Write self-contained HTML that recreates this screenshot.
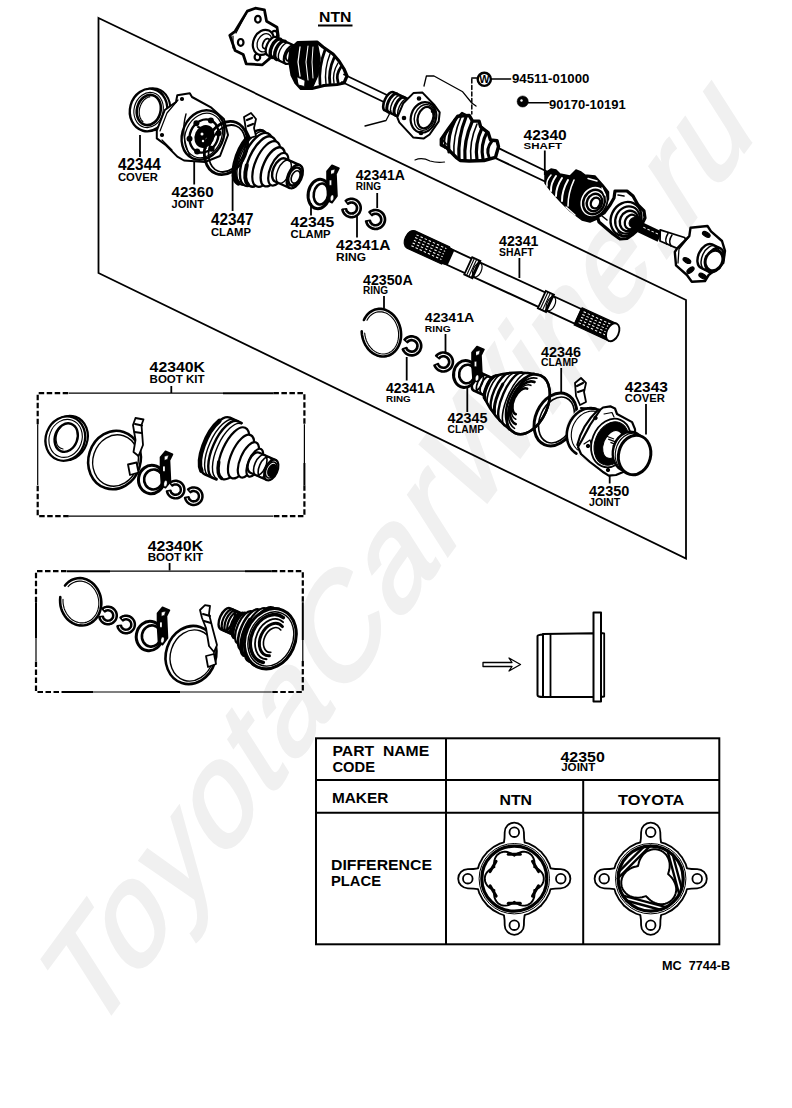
<!DOCTYPE html>
<html><head><meta charset="utf-8"><style>
html,body{margin:0;padding:0;background:#fff;}
svg{display:block;}
text{font-family:"Liberation Sans",sans-serif;font-weight:bold;fill:#000;}
.pn text{font-weight:bold;}
text.wm{fill:#f0f0f0;stroke:#f0f0f0;stroke-width:2.5;font-weight:normal;}
.ld{stroke:#000;stroke-width:1.8;}
.fr{fill:none;stroke:#000;stroke-width:1.8;}
.dash{fill:none;stroke:#000;stroke-width:2.2;stroke-dasharray:5.5 2.5;}
.tb rect,.tb line{fill:none;stroke:#000;stroke-width:2;}
.k{fill:none;stroke:#000;stroke-width:1.6;stroke-linejoin:round;stroke-linecap:round;}
.kf{fill:#fff;stroke:#000;stroke-width:1.6;stroke-linejoin:round;}
.kb{fill:#000;stroke:none;}
</style></head><body>
<svg width="792" height="1108" viewBox="0 0 792 1108">
<text class="wm" x="0" y="0" font-size="108" letter-spacing="3" transform="translate(91,1041) scale(1,1.46) rotate(-43)">ToyotaCarWine.ru</text>
<path d="M247.3,11.1 L255.3,8.2 L264.4,9.8 L266.6,21.2 L277.0,27.3 L278.3,36.3 L273.5,40.0 L269.5,58.6 L262.4,64.8 L246.2,63.8 L243.2,54.5 L235.1,50.5 L229.8,35.3 L235.1,31.3 Z" fill="#fff" stroke="#000" stroke-width="2.8" stroke-linejoin="round" stroke-linecap="round" />
<path d="M246,14 L236,33 M233,36 L233,48" fill="none" stroke="#000" stroke-width="1.2" stroke-linejoin="round" stroke-linecap="round" />
<ellipse cx="257.9" cy="19.2" rx="2.8" ry="3.4" transform="rotate(0 257.9 19.2)" fill="none" stroke="#000" stroke-width="2.2" />
<ellipse cx="240.7" cy="42.4" rx="2.8" ry="3.4" transform="rotate(0 240.7 42.4)" fill="none" stroke="#000" stroke-width="2.2" />
<ellipse cx="257.4" cy="57.0" rx="2.8" ry="3.4" transform="rotate(0 257.4 57.0)" fill="none" stroke="#000" stroke-width="2.2" />
<ellipse cx="274.5" cy="34.3" rx="2.8" ry="3.4" transform="rotate(0 274.5 34.3)" fill="none" stroke="#000" stroke-width="2.2" />
<ellipse cx="263.4" cy="42.4" rx="10.0" ry="13.0" transform="rotate(25 263.4 42.4)" fill="#fff" stroke="#000" stroke-width="2.2" />
<ellipse cx="264.5" cy="42.8" rx="7.0" ry="9.5" transform="rotate(25 264.5 42.8)" fill="none" stroke="#000" stroke-width="1.3" />
<g transform="translate(266.0,43.5) rotate(25)">
<path d="M7.0,-5.2 L0.0,-5.2 A2.9,5.2 0 0 0 0.0,5.2 L7.0,5.2" fill="#fff" stroke="#000" stroke-width="1.8" stroke-linejoin="round" stroke-linecap="round" />
<ellipse cx="7.0" cy="0" rx="2.9" ry="5.2" fill="#fff" stroke="#000" stroke-width="1.8"/>
</g>
<g transform="translate(280.0,50.0) rotate(25)">
<path d="M11.0,-10.0 L-9.0,-10.0 A5.0,10.0 0 0 0 -9.0,10.0 L11.0,10.0" fill="#fff" stroke="#000" stroke-width="2.2" stroke-linejoin="round" stroke-linecap="round" />
<ellipse cx="11.0" cy="0" rx="5.0" ry="10.0" fill="#fff" stroke="#000" stroke-width="2.2"/>
<path d="M-4.0,10.0 A5.0,10.0 0 0 1 -4.0,-10.0" fill="none" stroke="#000" stroke-width="3.4" stroke-linejoin="round" stroke-linecap="round" />
<path d="M1.0,10.0 A5.0,10.0 0 0 1 1.0,-10.0" fill="none" stroke="#000" stroke-width="3.4" stroke-linejoin="round" stroke-linecap="round" />
<path d="M5.0,10.0 A5.0,10.0 0 0 1 5.0,-10.0" fill="none" stroke="#000" stroke-width="1.4" stroke-linejoin="round" stroke-linecap="round" />
<ellipse cx="11.0" cy="0.0" rx="3.6" ry="6.5" fill="#fff" stroke="#000" stroke-width="2.0"/>
</g>
<path d="M291.0,49.0 L298.0,42.5 L317.0,42.0 L323.0,47.0 L333.0,54.0 L339.0,61.0 L344.0,69.0 L347.0,76.0 L344.0,83.0 L337.0,84.5 L324.0,85.5 L312.0,88.5 L301.0,88.5 L296.0,83.0 L292.0,75.0 L289.5,60.0 Z" fill="#fff" stroke="#000" stroke-width="3.2" stroke-linejoin="round" stroke-linecap="round" />
<path d="M291.0,49.0 L298.0,42.5 L317.0,42.0 L320.0,58.0 L318.0,75.0 L312.0,88.5 L301.0,88.5 L296.0,83.0 L292.0,75.0 L289.5,60.0 Z" fill="#000" stroke="#000" stroke-width="1.5" stroke-linejoin="round" stroke-linecap="round" />
<path d="M300,47 L298,62 L300,76" fill="none" stroke="#fff" stroke-width="1.3" stroke-linejoin="round" stroke-linecap="round" />
<path d="M308,46 L306,62 L308,80" fill="none" stroke="#fff" stroke-width="1.1" stroke-linejoin="round" stroke-linecap="round" />
<path d="M313,47 L312,62 L313,78" fill="none" stroke="#fff" stroke-width="1.0" stroke-linejoin="round" stroke-linecap="round" />
<path d="M325,50 Q318.5,67.0 320,84" fill="none" stroke="#000" stroke-width="2.8" stroke-linejoin="round" stroke-linecap="round" />
<path d="M330,54 Q324.0,69.0 326,84" fill="none" stroke="#000" stroke-width="1.4" stroke-linejoin="round" stroke-linecap="round" />
<path d="M334,58 Q328.0,71.0 330,84" fill="none" stroke="#000" stroke-width="2.8" stroke-linejoin="round" stroke-linecap="round" />
<path d="M338,63 Q332.0,73.0 334,83" fill="none" stroke="#000" stroke-width="1.4" stroke-linejoin="round" stroke-linecap="round" />
<path d="M341,67 Q335.5,74.5 338,82" fill="none" stroke="#000" stroke-width="2.8" stroke-linejoin="round" stroke-linecap="round" />
<path d="M297,77 L305,80.5 L304.5,86.5 L298.5,85 Z" fill="#fff" stroke="#000" stroke-width="0.8" stroke-linejoin="round" stroke-linecap="round" />
<line x1="344.0" y1="74.5" x2="389.0" y2="96.0" stroke="#000" stroke-width="1.8" stroke-linecap="round" />
<line x1="342.0" y1="82.0" x2="387.0" y2="103.5" stroke="#000" stroke-width="1.8" stroke-linecap="round" />
<g transform="translate(399.0,106.0) rotate(25)">
<path d="M12.0,-10.0 L-11.0,-10.0 A4.5,10.0 0 0 0 -11.0,10.0 L12.0,10.0" fill="#fff" stroke="#000" stroke-width="2.6" stroke-linejoin="round" stroke-linecap="round" />
<ellipse cx="12.0" cy="0" rx="4.5" ry="10.0" fill="#fff" stroke="#000" stroke-width="2.6"/>
<path d="M-7.0,10.0 A4.5,10.0 0 0 1 -7.0,-10.0" fill="none" stroke="#000" stroke-width="3.0" stroke-linejoin="round" stroke-linecap="round" />
<path d="M-3.0,10.0 A4.5,10.0 0 0 1 -3.0,-10.0" fill="none" stroke="#000" stroke-width="1.4" stroke-linejoin="round" stroke-linecap="round" />
<path d="M1.0,10.0 A4.5,10.0 0 0 1 1.0,-10.0" fill="none" stroke="#000" stroke-width="3.0" stroke-linejoin="round" stroke-linecap="round" />
<path d="M5.0,10.0 A4.5,10.0 0 0 1 5.0,-10.0" fill="none" stroke="#000" stroke-width="1.4" stroke-linejoin="round" stroke-linecap="round" />
<path d="M9.0,10.0 A4.5,10.0 0 0 1 9.0,-10.0" fill="none" stroke="#000" stroke-width="3.0" stroke-linejoin="round" stroke-linecap="round" />
</g>
<path d="M413.4,93.1 L422.5,92.6 L434.6,105.3 L439.7,112.3 L438.7,121.4 L429.6,134.5 L423.5,138.6 L413.4,137.6 L399.3,122.4 L397.3,117.4 L403.3,103.2 Z" fill="#fff" stroke="#000" stroke-width="2.0" stroke-linejoin="round" stroke-linecap="round" />
<ellipse cx="423.5" cy="117.4" rx="12.5" ry="15.5" transform="rotate(18 423.5 117.4)" fill="#fff" stroke="#000" stroke-width="2.2" />
<ellipse cx="424.5" cy="117.4" rx="10.0" ry="13.2" transform="rotate(18 424.5 117.4)" fill="none" stroke="#000" stroke-width="1.4" />
<ellipse cx="425.5" cy="117.6" rx="7.6" ry="11.0" transform="rotate(18 425.5 117.6)" fill="#fff" stroke="#000" stroke-width="2.2" />
<ellipse cx="419.0" cy="98.5" rx="1.6" ry="1.6" transform="rotate(0 419.0 98.5)" fill="#000" stroke="#000" stroke-width="1.4" />
<ellipse cx="433.0" cy="111.0" rx="1.6" ry="1.6" transform="rotate(0 433.0 111.0)" fill="#000" stroke="#000" stroke-width="1.4" />
<ellipse cx="404.0" cy="118.0" rx="1.6" ry="1.6" transform="rotate(0 404.0 118.0)" fill="#000" stroke="#000" stroke-width="1.4" />
<ellipse cx="421.0" cy="133.0" rx="1.6" ry="1.6" transform="rotate(0 421.0 133.0)" fill="#000" stroke="#000" stroke-width="1.4" />
<path d="M365,126 L386,120.5 L391,111" fill="none" stroke="#000" stroke-width="1.3" stroke-linejoin="round" stroke-linecap="round" />
<path d="M424,86 L426.4,76 L434,76 L462.7,91.8 L471.8,103 L476,106" fill="none" stroke="#000" stroke-width="1.3" stroke-linejoin="round" stroke-linecap="round" />
<path d="M415,160 Q422,157 430,161 Q437,163 444.5,162" fill="none" stroke="#000" stroke-width="1.2" stroke-linejoin="round" stroke-linecap="round" />
<path d="M471.8,79 L471.8,114" fill="none" stroke="#000" stroke-width="1.5" stroke-linejoin="round" stroke-linecap="round" stroke-dasharray="4 2.5"/>
<line x1="471.8" y1="78.0" x2="477.5" y2="78.0" stroke="#000" stroke-width="1.5" stroke-linecap="round" />
<ellipse cx="484.3" cy="79.3" rx="6.6" ry="6.6" transform="rotate(0 484.3 79.3)" fill="#fff" stroke="#000" stroke-width="2.4" />
<text x="479.2" y="83.4" font-size="10" textLength="10.2" lengthAdjust="spacingAndGlyphs" style="font-weight:bold">W</text>
<line x1="491.0" y1="79.0" x2="510.6" y2="79.0" stroke="#000" stroke-width="1.5" stroke-linecap="round" />
<ellipse cx="522.7" cy="101.5" rx="5.6" ry="5.6" transform="rotate(0 522.7 101.5)" fill="#000" stroke="#000" stroke-width="0.5" />
<ellipse cx="521.5" cy="100.5" rx="1.2" ry="1.2" transform="rotate(0 521.5 100.5)" fill="#fff" stroke="#000" stroke-width="0" />
<line x1="528.0" y1="102.8" x2="548.5" y2="102.8" stroke="#000" stroke-width="1.4" stroke-linecap="round" />
<path d="M441.3,139.2 L448.7,128.5 L457.7,116.2 L469.2,115.4 L472.5,121.1 L479.0,121.1 L480.7,126.9 L488.1,132.6 L490.5,140.0 L497.1,140.8 L498.5,146.6 L495.5,157.3 L484.0,160.5 L469.2,161.0 L460.2,160.5 L456.1,157.3 L446.2,147.4 L441.3,145.0 Z" fill="#fff" stroke="#000" stroke-width="3.4" stroke-linejoin="round" stroke-linecap="round" />
<path d="M450,126 Q442.5,137.0 445,148" fill="none" stroke="#000" stroke-width="1.6" stroke-linejoin="round" stroke-linecap="round" />
<path d="M455,120 Q447.0,136.0 449,152" fill="none" stroke="#000" stroke-width="3.2" stroke-linejoin="round" stroke-linecap="round" />
<path d="M461,117 Q452.5,136.5 454,156" fill="none" stroke="#000" stroke-width="1.6" stroke-linejoin="round" stroke-linecap="round" />
<path d="M466,117 Q457.5,138.0 459,159" fill="none" stroke="#000" stroke-width="3.2" stroke-linejoin="round" stroke-linecap="round" />
<path d="M472,122 Q463.5,141.0 465,160" fill="none" stroke="#000" stroke-width="3.2" stroke-linejoin="round" stroke-linecap="round" />
<path d="M477,124 Q469.0,142.0 471,160" fill="none" stroke="#000" stroke-width="1.6" stroke-linejoin="round" stroke-linecap="round" />
<path d="M482,128 Q474.5,144.0 477,160" fill="none" stroke="#000" stroke-width="3.2" stroke-linejoin="round" stroke-linecap="round" />
<path d="M487,132 Q480.0,145.5 483,159" fill="none" stroke="#000" stroke-width="3.2" stroke-linejoin="round" stroke-linecap="round" />
<path d="M492,141 Q485.5,149.0 489,157" fill="none" stroke="#000" stroke-width="3.0" stroke-linejoin="round" stroke-linecap="round" />
<path d="M443,140 L446,144" fill="none" stroke="#000" stroke-width="2" stroke-linejoin="round" stroke-linecap="round" />
<path d="M458,117 L462,113 L468,116" fill="none" stroke="#000" stroke-width="2.4" stroke-linejoin="round" stroke-linecap="round" />
<line x1="498.6" y1="148.2" x2="548.0" y2="172.0" stroke="#000" stroke-width="1.9" stroke-linecap="round" />
<line x1="494.0" y1="157.3" x2="545.0" y2="181.5" stroke="#000" stroke-width="1.9" stroke-linecap="round" />
<path d="M545.0,173.0 L551.0,169.0 L556.0,170.0 L560.0,174.0 L570.0,176.0 L576.0,170.0 L581.0,172.0 L585.0,175.0 L595.0,176.0 L603.0,185.0 L608.5,192.0 L608.5,199.0 L603.0,210.0 L597.0,219.0 L590.0,222.0 L582.0,220.0 L570.0,211.0 L560.0,201.0 L551.0,191.0 L545.0,183.0 Z" fill="#000" stroke="#000" stroke-width="1.5" stroke-linejoin="round" stroke-linecap="round" />
<path d="M551,175 Q546.0,180.5 547,186" fill="none" stroke="#fff" stroke-width="1.6" stroke-linejoin="round" stroke-linecap="round" />
<path d="M556,176 Q550.5,183.5 551,191" fill="none" stroke="#fff" stroke-width="2.0" stroke-linejoin="round" stroke-linecap="round" />
<path d="M562,178 Q556.0,187.0 556,196" fill="none" stroke="#fff" stroke-width="2.0" stroke-linejoin="round" stroke-linecap="round" />
<path d="M568,180 Q562.0,190.5 562,201" fill="none" stroke="#fff" stroke-width="2.0" stroke-linejoin="round" stroke-linecap="round" />
<path d="M574,180 Q568.0,193.0 568,206" fill="none" stroke="#fff" stroke-width="1.6" stroke-linejoin="round" stroke-linecap="round" />
<ellipse cx="593.5" cy="201.5" rx="13.5" ry="16.0" transform="rotate(25 593.5 201.5)" fill="#fff" stroke="#000" stroke-width="1.8" />
<ellipse cx="594.0" cy="202.0" rx="10.5" ry="12.5" transform="rotate(25 594.0 202.0)" fill="none" stroke="#000" stroke-width="2.4" />
<ellipse cx="594.5" cy="202.5" rx="7.5" ry="9.0" transform="rotate(25 594.5 202.5)" fill="none" stroke="#000" stroke-width="2.4" />
<ellipse cx="595.5" cy="203.0" rx="4.5" ry="5.5" transform="rotate(25 595.5 203.0)" fill="#fff" stroke="#000" stroke-width="2.4" />
<path d="M588,178.5 L597,181 M602,188 L605,195" fill="none" stroke="#fff" stroke-width="1.4" stroke-linejoin="round" stroke-linecap="round" />
<path d="M566,207 L575,215" fill="none" stroke="#fff" stroke-width="1.4" stroke-linejoin="round" stroke-linecap="round" />
<path d="M615.0,191.0 L627.0,191.0 L633.0,196.0 L638.0,205.0 L644.0,211.0 L645.0,218.0 L640.0,228.0 L632.0,235.0 L627.0,238.5 L620.0,239.0 L613.0,234.0 L606.0,228.0 L599.0,222.0 L597.5,217.0 L604.0,213.0 L610.0,205.0 L614.0,198.0 Z" fill="#fff" stroke="#000" stroke-width="3.2" stroke-linejoin="round" stroke-linecap="round" />
<ellipse cx="626.0" cy="219.0" rx="15.0" ry="17.5" transform="rotate(25 626.0 219.0)" fill="#fff" stroke="#000" stroke-width="2.4" />
<ellipse cx="627.5" cy="220.0" rx="12.0" ry="14.0" transform="rotate(25 627.5 220.0)" fill="none" stroke="#000" stroke-width="2.2" />
<ellipse cx="629.0" cy="221.0" rx="9.0" ry="10.5" transform="rotate(25 629.0 221.0)" fill="none" stroke="#000" stroke-width="2.4" />
<ellipse cx="631.0" cy="222.0" rx="6.0" ry="7.5" transform="rotate(25 631.0 222.0)" fill="none" stroke="#000" stroke-width="2.2" />
<ellipse cx="633.5" cy="222.5" rx="4.2" ry="5.2" transform="rotate(25 633.5 222.5)" fill="#000" stroke="#000" stroke-width="1" />
<path d="M602,216 L607,220 M618,195 L624,196 M618,232 L623,236" fill="none" stroke="#000" stroke-width="1.6" stroke-linejoin="round" stroke-linecap="round" />
<g transform="translate(650.0,232.0) rotate(25)">
<path d="M-11,-5.5 L11,-5.5 L11,5.5 L-11,5.5 Z" fill="#000"/>
<line x1="-8" y1="-1.5" x2="9" y2="-1.5" stroke="#fff" stroke-width="0.9" stroke-dasharray="2.5 2"/>
</g>
<path d="M660.2,229.8 L684.5,237.5 L689,244 L677.2,248.4 L660,241 Z" fill="#fff" stroke="#000" stroke-width="1.8" stroke-linejoin="round" stroke-linecap="round" />
<path d="M668,233.5 Q664,240 667,244.2 M672,235 Q668,241 671,246" fill="none" stroke="#000" stroke-width="1.5" stroke-linejoin="round" stroke-linecap="round" />
<path d="M690.5,227.8 L707.5,226.0 L711.0,231.4 L722.0,241.0 L725.0,250.8 L723.3,262.9 L715.0,270.0 L708.7,275.0 L705.0,281.0 L691.8,281.7 L686.9,275.0 L676.0,265.3 L674.8,252.0 L677.2,248.4 L689.3,236.2 Z" fill="#fff" stroke="#000" stroke-width="2.4" stroke-linejoin="round" stroke-linecap="round" />
<path d="M688,238 L679,249 L678,263" fill="none" stroke="#000" stroke-width="1.3" stroke-linejoin="round" stroke-linecap="round" />
<g transform="translate(709.3,257.5) rotate(25)">
<path d="M6.0,-13.0 L-3.0,-13.0 A8.1,13.0 0 0 0 -3.0,13.0 L6.0,13.0" fill="#fff" stroke="#000" stroke-width="2.4" stroke-linejoin="round" stroke-linecap="round" />
<ellipse cx="6.0" cy="0" rx="8.1" ry="13.0" fill="#fff" stroke="#000" stroke-width="2.4"/>
<ellipse cx="1.0" cy="0.0" rx="8.1" ry="13.0" fill="none" stroke="#000" stroke-width="1.5"/>
</g>
<ellipse cx="714.0" cy="260.5" rx="8.5" ry="10.5" transform="rotate(25 714.0 260.5)" fill="#fff" stroke="#000" stroke-width="3" />
<ellipse cx="706.3" cy="234.4" rx="4.2" ry="2.2" transform="rotate(30 706.3 234.4)" fill="#000" stroke="#000" stroke-width="1.2" />
<ellipse cx="686.9" cy="260.5" rx="4.2" ry="2.2" transform="rotate(30 686.9 260.5)" fill="#000" stroke="#000" stroke-width="1.2" />
<ellipse cx="690.5" cy="270.2" rx="4.2" ry="2.2" transform="rotate(-40 690.5 270.2)" fill="#000" stroke="#000" stroke-width="1.2" />
<ellipse cx="702.7" cy="276.2" rx="4.2" ry="2.2" transform="rotate(30 702.7 276.2)" fill="#000" stroke="#000" stroke-width="1.2" />
<ellipse cx="151.5" cy="109.5" rx="18.5" ry="21.5" transform="rotate(15 151.5 109.5)" fill="#fff" stroke="#000" stroke-width="2.0" />
<ellipse cx="148.5" cy="110.0" rx="18.5" ry="21.5" transform="rotate(15 148.5 110.0)" fill="#fff" stroke="#000" stroke-width="2.4" />
<ellipse cx="148.6" cy="110.0" rx="14.5" ry="17.8" transform="rotate(15 148.6 110.0)" fill="none" stroke="#000" stroke-width="1.1" />
<ellipse cx="148.8" cy="110.0" rx="11.8" ry="15.3" transform="rotate(15 148.8 110.0)" fill="#fff" stroke="#000" stroke-width="2.6" />
<path d="M143.0,121.8 L142.6,121.4 L142.2,121.0 L141.9,120.6 L141.5,120.1 L141.2,119.7 L140.9,119.2 L140.6,118.6 L140.4,118.1 L140.1,117.5 L139.9,116.9 L139.8,116.3 L139.6,115.7 L139.5,115.0 L139.4,114.4 L139.3,113.7 L139.2,113.0 L139.2,112.4 L139.2,111.7 L139.3,111.0 L139.3,110.3 L139.4,109.6 L139.5,108.9 L139.7,108.2 L139.9,107.5 L140.0,106.9 L140.3,106.2 L140.5,105.5 L140.8,104.9 L141.1,104.3 L141.4,103.6 L141.7,103.1 L142.1,102.5 L142.5,101.9 L142.9,101.4 L143.3,100.9 L143.7,100.4 L144.1,99.9 L144.6,99.5 L145.1,99.1 L145.6,98.7 L146.1,98.3 L146.6,98.0 L147.1,97.7 L147.6,97.5 L148.1,97.2 L148.7,97.0 L149.2,96.9 L149.8,96.8" fill="none" stroke="#000" stroke-width="1.2" stroke-linejoin="round" stroke-linecap="round" />
<path d="M177.3,95.2 L189.8,93.2 L192.0,97.0 L211.4,107.7 L223.9,119.0 L228.0,135.0 L220.0,156.0 L205.0,162.0 L184.0,160.5 L177.3,156.6 L166.0,145.2 L156.8,138.4 L156.8,130.5 L164.8,110.0 L176.0,102.0 Z" fill="#fff" stroke="#000" stroke-width="2.0" stroke-linejoin="round" stroke-linecap="round" />
<path d="M178,100 L167,113 L160,131 M162,140 L172,150" fill="none" stroke="#000" stroke-width="1.2" stroke-linejoin="round" stroke-linecap="round" />
<ellipse cx="182.0" cy="99.0" rx="1.5" ry="1.5" transform="rotate(0 182.0 99.0)" fill="#000" stroke="#000" stroke-width="1.2" />
<ellipse cx="162.0" cy="135.0" rx="1.5" ry="1.5" transform="rotate(0 162.0 135.0)" fill="#000" stroke="#000" stroke-width="1.2" />
<ellipse cx="203.0" cy="135.0" rx="20.5" ry="25.5" transform="rotate(24 203.0 135.0)" fill="#fff" stroke="#000" stroke-width="2.4" />
<ellipse cx="203.5" cy="135.5" rx="18.0" ry="23.0" transform="rotate(24 203.5 135.5)" fill="none" stroke="#000" stroke-width="1.3" />
<ellipse cx="204.0" cy="136.0" rx="14.0" ry="17.0" transform="rotate(24 204.0 136.0)" fill="#fff" stroke="#000" stroke-width="2.4" />
<ellipse cx="204.5" cy="136.5" rx="9.0" ry="11.0" transform="rotate(24 204.5 136.5)" fill="#000" stroke="#000" stroke-width="1.5" />
<circle cx="211.6" cy="148.7" r="3" fill="#000"/>
<circle cx="197.1" cy="151.5" r="3" fill="#000"/>
<circle cx="189.5" cy="138.8" r="3" fill="#000"/>
<circle cx="196.4" cy="123.3" r="3" fill="#000"/>
<circle cx="210.9" cy="120.5" r="3" fill="#000"/>
<circle cx="218.5" cy="133.2" r="3" fill="#000"/>
<ellipse cx="202.0" cy="134.0" rx="1.5" ry="1.5" transform="rotate(0 202.0 134.0)" fill="#fff" stroke="#000" stroke-width="0" />
<ellipse cx="207.0" cy="139.0" rx="1.3" ry="1.3" transform="rotate(0 207.0 139.0)" fill="#fff" stroke="#000" stroke-width="0" />
<ellipse cx="203.0" cy="141.0" rx="1.2" ry="1.2" transform="rotate(0 203.0 141.0)" fill="#fff" stroke="#000" stroke-width="0" />
<path d="M198,127 L210,131 M196,140 L206,148" fill="none" stroke="#000" stroke-width="2.0" stroke-linejoin="round" stroke-linecap="round" />
<path d="M186,114 Q180,135 190,156" fill="none" stroke="#000" stroke-width="1.4" stroke-linejoin="round" stroke-linecap="round" />
<g transform="translate(271.0,166.0) rotate(24)">
<ellipse cx="-22.0" cy="0.0" rx="13.1" ry="29.0" fill="#fff" stroke="#000" stroke-width="2.6"/>
<ellipse cx="-19.0" cy="0.0" rx="13.1" ry="29.0" fill="#fff" stroke="#000" stroke-width="1.4"/>
<ellipse cx="-16.0" cy="0.0" rx="12.8" ry="28.5" fill="#fff" stroke="#000" stroke-width="2.4"/>
<ellipse cx="-11.0" cy="0.0" rx="12.2" ry="27.0" fill="#fff" stroke="#000" stroke-width="2.4"/>
<ellipse cx="-5.0" cy="0.0" rx="11.0" ry="24.5" fill="#fff" stroke="#000" stroke-width="2.2"/>
<ellipse cx="2.0" cy="0.0" rx="9.5" ry="21.0" fill="#fff" stroke="#000" stroke-width="2.4"/>
<ellipse cx="8.0" cy="0.0" rx="7.9" ry="17.5" fill="#fff" stroke="#000" stroke-width="2.2"/>
<path d="M26.0,-12.5 L10.0,-12.5 A6.9,12.5 0 0 0 10.0,12.5 L26.0,12.5" fill="#fff" stroke="#000" stroke-width="2.4" stroke-linejoin="round" stroke-linecap="round" />
<ellipse cx="26.0" cy="0" rx="6.9" ry="12.5" fill="#fff" stroke="#000" stroke-width="2.4"/>
<ellipse cx="14.0" cy="0.0" rx="6.2" ry="12.5" fill="none" stroke="#000" stroke-width="1.4"/>
<ellipse cx="26.0" cy="0.0" rx="5.9" ry="9.5" fill="#fff" stroke="#000" stroke-width="2.6"/>
<ellipse cx="27.0" cy="0.0" rx="4.0" ry="6.5" fill="#fff" stroke="#000" stroke-width="1.6"/>
<path d="M-23.1,28.9 A13.1,29.0 0 0 1 -32.7,-16.6" fill="none" stroke="#000" stroke-width="5" stroke-linejoin="round" stroke-linecap="round" />
<path d="M-13.1,26.6 A12.2,27.0 0 0 1 -22.4,9.2" fill="none" stroke="#000" stroke-width="4" stroke-linejoin="round" stroke-linecap="round" />
</g>
<ellipse cx="226.0" cy="148.0" rx="20.5" ry="27.5" transform="rotate(22 226.0 148.0)" fill="none" stroke="#000" stroke-width="2.8" />
<ellipse cx="227.0" cy="148.5" rx="17.3" ry="24.3" transform="rotate(22 227.0 148.5)" fill="none" stroke="#000" stroke-width="1.8" />
<path d="M244.0,117.0 L251.0,113.0 L256.0,119.0 L254.0,128.0 L256.0,136.0 L250.0,138.0 L246.0,130.0 Z" fill="#fff" stroke="#000" stroke-width="1.8" stroke-linejoin="round" stroke-linecap="round" />
<path d="M247,120 L252,118 M248,126 L253,124" fill="none" stroke="#000" stroke-width="2.2" stroke-linejoin="round" stroke-linecap="round" />
<ellipse cx="319.0" cy="194.0" rx="10.8" ry="14.8" transform="rotate(10 319.0 194.0)" fill="#fff" stroke="#000" stroke-width="3.0" />
<ellipse cx="321.0" cy="194.0" rx="7.2" ry="10.6" transform="rotate(10 321.0 194.0)" fill="#fff" stroke="#000" stroke-width="2.6" />
<path d="M327.0,184.2 L327.0,171.2 L332.0,165.2 L339.0,168.2 L336.0,174.2 L337.0,196.0 L332.0,202.8 L328.0,200.8 Z" fill="#000" stroke="#000" stroke-width="1.6" stroke-linejoin="round" stroke-linecap="round" />
<path d="M331.0,170.2 L335.0,169.2 L334.0,173.2 L331.0,174.2 Z" fill="#fff" stroke="#000" stroke-width="0.5" stroke-linejoin="round" stroke-linecap="round" />
<path d="M329.5,180.2 L331.5,180.2 L331.5,185.2 L329.5,185.2 Z" fill="#fff" stroke="#000" stroke-width="0.3" stroke-linejoin="round" stroke-linecap="round" />
<ellipse cx="332.0" cy="198.0" rx="1.6" ry="3.0" transform="rotate(10 332.0 198.0)" fill="#fff" stroke="#000" stroke-width="0.3" />
<path d="M345.4,200.7 L346.4,200.0 L347.5,199.4 L348.6,198.9 L349.9,198.6 L351.1,198.5 L352.3,198.5 L353.6,198.7 L354.7,199.1 L355.9,199.6 L356.9,200.2 L357.9,201.0 L358.8,201.9 L359.5,202.9 L360.1,204.0 L360.6,205.1 L360.9,206.4 L361.0,207.6 L361.0,208.8 L360.8,210.1 L360.4,211.2 L359.9,212.4 L359.3,213.4 L358.5,214.4 L357.6,215.3 L356.6,216.0 L355.5,216.6 L354.4,217.1 L353.1,217.4 L351.9,217.5 L350.7,217.5 L349.4,217.3 L348.3,216.9 L347.1,216.4 L346.1,215.8 L345.1,215.0 L344.2,214.1 L343.5,213.1 L342.9,212.0 L342.4,210.9 L342.1,209.6 L346.4,208.9 L346.5,209.6 L346.8,210.2 L347.1,210.8 L347.5,211.4 L348.0,211.9 L348.5,212.3 L349.1,212.6 L349.7,212.9 L350.4,213.1 L351.0,213.2 L351.7,213.2 L352.4,213.1 L353.1,213.0 L353.7,212.7 L354.3,212.4 L354.9,212.0 L355.4,211.5 L355.8,211.0 L356.1,210.4 L356.4,209.8 L356.6,209.1 L356.7,208.5 L356.7,207.8 L356.6,207.1 L356.5,206.4 L356.2,205.8 L355.9,205.2 L355.5,204.6 L355.0,204.1 L354.5,203.7 L353.9,203.4 L353.3,203.1 L352.6,202.9 L352.0,202.8 L351.3,202.8 L350.6,202.9 L349.9,203.0 L349.3,203.3 L348.7,203.6 L348.1,204.0 Z" fill="#000" stroke="#000" stroke-width="2.0" stroke-linejoin="round" stroke-linecap="round" />
<path d="M347.7,201.7 L348.5,201.3 L349.3,201.0 L350.2,200.8 L351.1,200.6 L352.0,200.7 L352.9,200.8 L353.8,201.0 L354.6,201.3 L355.4,201.8 L356.2,202.3 L356.8,202.9 L357.4,203.6 L357.9,204.4 L358.3,205.2 L358.6,206.1 L358.8,206.9 L358.9,207.8 L358.8,208.8 L358.7,209.6 L358.4,210.5 L358.1,211.4 L357.6,212.1 L357.0,212.9 L356.4,213.5 L355.7,214.1 L354.9,214.5 L354.1,214.9 L353.2,215.2 L352.3,215.3 L351.4,215.4 L350.5,215.3 L349.6,215.1 L348.8,214.8 L347.9,214.4 L347.2,214.0 L346.5,213.4 L345.8,212.7 L345.3,212.0 L344.9,211.2 L344.5,210.3" fill="none" stroke="#fff" stroke-width="1.1" stroke-linejoin="round" stroke-linecap="round" />
<path d="M369.2,212.0 L370.2,211.2 L371.4,210.6 L372.6,210.2 L373.8,209.8 L375.1,209.7 L376.4,209.7 L377.6,209.9 L378.9,210.3 L380.0,210.8 L381.1,211.5 L382.1,212.3 L383.0,213.2 L383.8,214.2 L384.4,215.4 L384.8,216.6 L385.2,217.8 L385.3,219.1 L385.3,220.4 L385.1,221.6 L384.7,222.9 L384.2,224.0 L383.5,225.1 L382.7,226.1 L381.8,227.0 L380.8,227.8 L379.6,228.4 L378.4,228.8 L377.2,229.2 L375.9,229.3 L374.6,229.3 L373.4,229.1 L372.1,228.7 L371.0,228.2 L369.9,227.5 L368.9,226.7 L368.0,225.8 L367.2,224.8 L366.6,223.6 L366.2,222.4 L365.8,221.2 L370.2,220.4 L370.4,221.1 L370.6,221.8 L371.0,222.4 L371.4,223.0 L371.9,223.5 L372.4,223.9 L373.0,224.3 L373.7,224.6 L374.3,224.8 L375.0,224.9 L375.7,224.9 L376.4,224.8 L377.1,224.6 L377.8,224.4 L378.4,224.0 L379.0,223.6 L379.5,223.1 L379.9,222.6 L380.3,222.0 L380.6,221.3 L380.8,220.7 L380.9,220.0 L380.9,219.3 L380.8,218.6 L380.6,217.9 L380.4,217.2 L380.0,216.6 L379.6,216.0 L379.1,215.5 L378.6,215.1 L378.0,214.7 L377.3,214.4 L376.7,214.2 L376.0,214.1 L375.3,214.1 L374.6,214.2 L373.9,214.4 L373.2,214.6 L372.6,215.0 L372.0,215.4 Z" fill="#000" stroke="#000" stroke-width="2.0" stroke-linejoin="round" stroke-linecap="round" />
<path d="M371.5,213.0 L372.4,212.6 L373.2,212.2 L374.2,212.0 L375.1,211.9 L376.0,211.9 L377.0,212.0 L377.9,212.3 L378.7,212.6 L379.6,213.1 L380.3,213.6 L381.0,214.3 L381.6,215.0 L382.1,215.8 L382.5,216.6 L382.8,217.5 L383.0,218.4 L383.1,219.3 L383.1,220.3 L382.9,221.2 L382.6,222.1 L382.3,223.0 L381.8,223.8 L381.2,224.5 L380.6,225.2 L379.8,225.7 L379.0,226.2 L378.2,226.6 L377.3,226.9 L376.3,227.0 L375.4,227.1 L374.5,227.0 L373.6,226.8 L372.7,226.5 L371.8,226.1 L371.0,225.6 L370.3,225.0 L369.7,224.4 L369.1,223.6 L368.7,222.8 L368.3,221.9" fill="none" stroke="#fff" stroke-width="1.1" stroke-linejoin="round" stroke-linecap="round" />
<g transform="translate(411.0,239.5) rotate(24.7)">
<path d="M0,-9.5 L38,-9.5 L38,9.5 L0,9.5 A6,9.5 0 0 1 0,-9.5 Z" fill="#000" stroke="#000" stroke-width="1.2"/>
<line x1="3" y1="-6.5" x2="36" y2="-6.5" stroke="#fff" stroke-width="1" stroke-dasharray="2.5 2"/>
<line x1="3" y1="-3.5" x2="36" y2="-3.5" stroke="#fff" stroke-width="1" stroke-dasharray="2.5 2"/>
<line x1="3" y1="-0.5" x2="36" y2="-0.5" stroke="#fff" stroke-width="1" stroke-dasharray="2.5 2"/>
<line x1="3" y1="2.5" x2="36" y2="2.5" stroke="#fff" stroke-width="1" stroke-dasharray="2.5 2"/>
<line x1="3" y1="5.5" x2="36" y2="5.5" stroke="#fff" stroke-width="1" stroke-dasharray="2.5 2"/>
<path d="M38,-8 L184,-8 L184,8 L38,8 Z" fill="#fff" stroke="#000" stroke-width="1.9"/>
<path d="M38,-9.5 L44,-8 L44,8 L38,9.5 Z" fill="#000"/>
<path d="M63,-9.5 L72,-9.5 L72,9.5 L63,9.5 Z" fill="#fff" stroke="#000" stroke-width="1.8"/>
<line x1="65.5" y1="-9.5" x2="65.5" y2="9.5" stroke="#000" stroke-width="1.1"/>
<line x1="68" y1="-9.5" x2="68" y2="9.5" stroke="#000" stroke-width="1.1"/>
<path d="M70,-9.5 L72,-9.5 L72,9.5 L70,9.5 Z" fill="#000"/>
<ellipse cx="73" cy="0" rx="4" ry="7.5" fill="none" stroke="#000" stroke-width="1.2"/>
<path d="M144,-9.5 L153,-9.5 L153,9.5 L144,9.5 Z" fill="#fff" stroke="#000" stroke-width="1.8"/>
<line x1="146.5" y1="-9.5" x2="146.5" y2="9.5" stroke="#000" stroke-width="1.1"/>
<line x1="149" y1="-9.5" x2="149" y2="9.5" stroke="#000" stroke-width="1.1"/>
<path d="M151,-9.5 L153,-9.5 L153,9.5 L151,9.5 Z" fill="#000"/>
<ellipse cx="154" cy="0" rx="4" ry="7.5" fill="none" stroke="#000" stroke-width="1.2"/>
<path d="M184,-9.5 L222,-9.5 L222,9.5 L184,9.5 Z" fill="#000" stroke="#000" stroke-width="1.2"/>
<line x1="187" y1="-6.5" x2="219" y2="-6.5" stroke="#fff" stroke-width="1" stroke-dasharray="2.5 2"/>
<line x1="187" y1="-3.5" x2="219" y2="-3.5" stroke="#fff" stroke-width="1" stroke-dasharray="2.5 2"/>
<line x1="187" y1="-0.5" x2="219" y2="-0.5" stroke="#fff" stroke-width="1" stroke-dasharray="2.5 2"/>
<line x1="187" y1="2.5" x2="219" y2="2.5" stroke="#fff" stroke-width="1" stroke-dasharray="2.5 2"/>
<line x1="187" y1="5.5" x2="219" y2="5.5" stroke="#fff" stroke-width="1" stroke-dasharray="2.5 2"/>
<ellipse cx="222" cy="0" rx="6" ry="9.5" fill="#fff" stroke="#000" stroke-width="1.9"/>
</g>
<path d="M363.9,320.0 L365.1,317.7 L366.5,315.6 L368.2,313.7 L370.1,312.1 L372.1,310.8 L374.2,309.8 L376.5,309.2 L378.8,308.9 L381.2,308.9 L383.6,309.3 L385.9,310.1 L388.2,311.1 L390.3,312.5 L392.4,314.1 L394.3,316.0 L396.0,318.2 L397.5,320.6 L398.7,323.1 L399.7,325.8 L400.5,328.6 L400.9,331.5 L401.1,334.3 L401.0,337.2 L400.6,339.9 L400.0,342.6 L399.0,345.1 L397.8,347.5 L396.4,349.6 L394.8,351.5 L392.9,353.1 L390.9,354.5 L388.8,355.5 L386.5,356.1 L384.2,356.5 L381.8,356.5 L379.5,356.1 L377.1,355.4 L374.9,354.4 L372.7,353.1 L370.6,351.5 L368.7,349.6 L367.0,347.4 L365.5,345.1 L364.2,342.5 L363.2,339.9 L362.4,337.1 L361.9,334.2 L361.7,331.4" fill="none" stroke="#000" stroke-width="2.6" stroke-linejoin="round" stroke-linecap="round" />
<path d="M367.0,320.3 L368.1,318.4 L369.4,316.7 L370.9,315.2 L372.5,314.0 L374.3,313.0 L376.1,312.3 L378.1,311.9 L380.0,311.8 L382.0,311.9 L384.0,312.4 L386.0,313.1 L387.9,314.1 L389.7,315.4 L391.4,316.9 L393.0,318.6 L394.4,320.5 L395.6,322.6 L396.6,324.9 L397.5,327.2 L398.1,329.6 L398.5,332.1 L398.6,334.6 L398.5,337.0 L398.2,339.4 L397.7,341.7 L396.9,343.9 L395.9,346.0 L394.8,347.8 L393.4,349.5 L391.9,350.9 L390.2,352.1 L388.5,353.0 L386.6,353.6 L384.6,354.0 L382.7,354.0 L380.7,353.8 L378.7,353.3 L376.7,352.5 L374.9,351.4 L373.1,350.1 L371.4,348.5 L369.9,346.7 L368.5,344.8 L367.3,342.6 L366.3,340.4 L365.6,338.0 L365.0,335.6 L364.7,333.1" fill="none" stroke="#000" stroke-width="1.1" stroke-linejoin="round" stroke-linecap="round" />
<path d="M404.2,339.6 L405.1,338.7 L406.1,337.9 L407.2,337.2 L408.3,336.7 L409.6,336.3 L410.8,336.1 L412.1,336.1 L413.4,336.2 L414.6,336.6 L415.8,337.0 L417.0,337.6 L418.0,338.4 L418.9,339.3 L419.7,340.3 L420.4,341.4 L420.9,342.5 L421.3,343.8 L421.5,345.0 L421.5,346.3 L421.4,347.6 L421.0,348.8 L420.6,350.0 L420.0,351.2 L419.2,352.2 L418.3,353.1 L417.3,353.9 L416.2,354.6 L415.1,355.1 L413.8,355.5 L412.6,355.7 L411.3,355.7 L410.0,355.6 L408.8,355.2 L407.6,354.8 L406.4,354.2 L405.4,353.4 L404.5,352.5 L403.7,351.5 L403.0,350.4 L402.5,349.3 L406.6,347.7 L406.9,348.4 L407.3,349.0 L407.7,349.5 L408.2,350.0 L408.8,350.4 L409.4,350.8 L410.1,351.0 L410.8,351.2 L411.5,351.3 L412.2,351.3 L412.9,351.2 L413.5,351.0 L414.2,350.7 L414.8,350.3 L415.3,349.9 L415.8,349.4 L416.2,348.8 L416.6,348.2 L416.8,347.5 L417.0,346.8 L417.1,346.1 L417.1,345.4 L417.0,344.7 L416.8,344.1 L416.5,343.4 L416.1,342.8 L415.7,342.3 L415.2,341.8 L414.6,341.4 L414.0,341.0 L413.3,340.8 L412.6,340.6 L411.9,340.5 L411.2,340.5 L410.5,340.6 L409.9,340.8 L409.2,341.1 L408.6,341.5 L408.1,341.9 L407.6,342.4 Z" fill="#000" stroke="#000" stroke-width="2.0" stroke-linejoin="round" stroke-linecap="round" />
<path d="M406.7,340.2 L407.4,339.6 L408.2,339.1 L409.1,338.8 L410.0,338.5 L410.9,338.3 L411.8,338.3 L412.8,338.4 L413.7,338.6 L414.6,338.9 L415.4,339.3 L416.2,339.8 L416.9,340.4 L417.6,341.1 L418.1,341.8 L418.6,342.6 L418.9,343.5 L419.2,344.4 L419.3,345.4 L419.3,346.3 L419.2,347.2 L419.0,348.1 L418.6,349.0 L418.2,349.8 L417.7,350.6 L417.0,351.3 L416.3,351.9 L415.6,352.4 L414.7,352.9 L413.8,353.2 L412.9,353.4 L412.0,353.5 L411.1,353.5 L410.1,353.3 L409.2,353.1 L408.4,352.7 L407.5,352.3 L406.8,351.7 L406.1,351.1 L405.5,350.3 L405.0,349.5" fill="none" stroke="#fff" stroke-width="1.1" stroke-linejoin="round" stroke-linecap="round" />
<path d="M435.9,355.7 L436.8,354.8 L437.8,354.0 L438.9,353.3 L440.0,352.8 L441.3,352.4 L442.5,352.2 L443.8,352.2 L445.1,352.3 L446.3,352.7 L447.5,353.1 L448.7,353.7 L449.7,354.5 L450.6,355.4 L451.4,356.4 L452.1,357.5 L452.6,358.6 L453.0,359.9 L453.2,361.1 L453.2,362.4 L453.1,363.7 L452.7,364.9 L452.3,366.1 L451.7,367.3 L450.9,368.3 L450.0,369.2 L449.0,370.0 L447.9,370.7 L446.8,371.2 L445.5,371.6 L444.3,371.8 L443.0,371.8 L441.7,371.7 L440.5,371.3 L439.3,370.9 L438.1,370.3 L437.1,369.5 L436.2,368.6 L435.4,367.6 L434.7,366.5 L434.2,365.4 L438.3,363.8 L438.6,364.5 L439.0,365.1 L439.4,365.6 L439.9,366.1 L440.5,366.5 L441.1,366.9 L441.8,367.1 L442.5,367.3 L443.2,367.4 L443.9,367.4 L444.6,367.3 L445.2,367.1 L445.9,366.8 L446.5,366.4 L447.0,366.0 L447.5,365.5 L447.9,364.9 L448.3,364.3 L448.5,363.6 L448.7,362.9 L448.8,362.2 L448.8,361.5 L448.7,360.8 L448.5,360.2 L448.2,359.5 L447.8,358.9 L447.4,358.4 L446.9,357.9 L446.3,357.5 L445.7,357.1 L445.0,356.9 L444.3,356.7 L443.6,356.6 L442.9,356.6 L442.2,356.7 L441.6,356.9 L440.9,357.2 L440.3,357.6 L439.8,358.0 L439.3,358.5 Z" fill="#000" stroke="#000" stroke-width="2.0" stroke-linejoin="round" stroke-linecap="round" />
<path d="M438.4,356.3 L439.1,355.7 L439.9,355.2 L440.8,354.9 L441.7,354.6 L442.6,354.4 L443.5,354.4 L444.5,354.5 L445.4,354.7 L446.3,355.0 L447.1,355.4 L447.9,355.9 L448.6,356.5 L449.3,357.2 L449.8,357.9 L450.3,358.7 L450.6,359.6 L450.9,360.5 L451.0,361.5 L451.0,362.4 L450.9,363.3 L450.7,364.2 L450.3,365.1 L449.9,365.9 L449.4,366.7 L448.7,367.4 L448.0,368.0 L447.3,368.5 L446.4,369.0 L445.5,369.3 L444.6,369.5 L443.7,369.6 L442.8,369.6 L441.8,369.4 L440.9,369.2 L440.1,368.8 L439.2,368.4 L438.5,367.8 L437.8,367.2 L437.2,366.4 L436.7,365.6" fill="none" stroke="#fff" stroke-width="1.1" stroke-linejoin="round" stroke-linecap="round" />
<g transform="translate(516.0,399.0) rotate(24)">
<path d="M-42,-9.5 L-30,-9.5 L-28,-13 Q-10,-28 13,-31.5 A19.5,31.5 0 0 1 13,31.5 Q-10,28 -28,13 L-30,9.5 L-42,9.5 A4.75,9.5 0 0 1 -42,-9.5 Z" fill="#fff" stroke="#000" stroke-width="2.6" stroke-linejoin="round" stroke-linecap="round" />
<ellipse cx="-42.0" cy="0.0" rx="4.8" ry="9.5" fill="none" stroke="#000" stroke-width="1.8"/>
<path d="M-37.0,9.5 A4.8,9.5 0 0 1 -37.0,-9.5" fill="none" stroke="#000" stroke-width="1.8" stroke-linejoin="round" stroke-linecap="round" />
<path d="M-33.0,9.5 A4.8,9.5 0 0 1 -33.0,-9.5" fill="none" stroke="#000" stroke-width="1.8" stroke-linejoin="round" stroke-linecap="round" />
<path d="M-27.8,13.3 A4.9,13.5 0 0 1 -27.8,-13.3" fill="none" stroke="#000" stroke-width="2.4" stroke-linejoin="round" stroke-linecap="round" />
<path d="M-23.1,16.7 A6.1,17.0 0 0 1 -23.1,-16.7" fill="none" stroke="#000" stroke-width="1.6" stroke-linejoin="round" stroke-linecap="round" />
<path d="M-17.3,20.2 A7.4,20.5 0 0 1 -17.3,-20.2" fill="none" stroke="#000" stroke-width="2.4" stroke-linejoin="round" stroke-linecap="round" />
<path d="M-11.5,23.6 A8.6,24.0 0 0 1 -11.5,-23.6" fill="none" stroke="#000" stroke-width="1.6" stroke-linejoin="round" stroke-linecap="round" />
<path d="M-5.7,26.6 A9.7,27.0 0 0 1 -5.7,-26.6" fill="none" stroke="#000" stroke-width="2.4" stroke-linejoin="round" stroke-linecap="round" />
<path d="M0.2,29.1 A10.6,29.5 0 0 1 0.2,-29.1" fill="none" stroke="#000" stroke-width="1.6" stroke-linejoin="round" stroke-linecap="round" />
<path d="M6.1,30.5 A11.2,31.0 0 0 1 6.1,-30.5" fill="none" stroke="#000" stroke-width="2.4" stroke-linejoin="round" stroke-linecap="round" />
<ellipse cx="13.0" cy="0.0" rx="19.5" ry="31.5" fill="none" stroke="#000" stroke-width="2.4"/>
<path d="M10.6,27.4 A16.5,27.5 0 0 1 10.6,-27.4" fill="none" stroke="#000" stroke-width="1.6" stroke-linejoin="round" stroke-linecap="round" />
<path d="M10.0,23.0 A13.3,23.0 0 0 1 10.0,-23.0" fill="none" stroke="#000" stroke-width="2.6" stroke-linejoin="round" stroke-linecap="round" />
<path d="M8.0,18.5 A10.4,18.5 0 0 1 8.0,-18.5" fill="none" stroke="#000" stroke-width="1.6" stroke-linejoin="round" stroke-linecap="round" />
<path d="M6.0,14.0 A7.7,14.0 0 0 1 6.0,-14.0" fill="none" stroke="#000" stroke-width="2.6" stroke-linejoin="round" stroke-linecap="round" />
<path d="M-29.4,11.7 A4.9,13.5 0 0 1 -30.1,-10.3" fill="none" stroke="#000" stroke-width="3.4" stroke-linejoin="round" stroke-linecap="round" />
<path d="M-14.3,20.8 A8.6,24.0 0 0 1 -18.1,-8.2" fill="none" stroke="#000" stroke-width="3.0" stroke-linejoin="round" stroke-linecap="round" />
</g>
<ellipse cx="465.0" cy="374.0" rx="11.4" ry="13.5" transform="rotate(10 465.0 374.0)" fill="#fff" stroke="#000" stroke-width="3.0" />
<ellipse cx="467.0" cy="374.0" rx="7.8" ry="9.3" transform="rotate(10 467.0 374.0)" fill="#fff" stroke="#000" stroke-width="2.6" />
<path d="M472.0,365.5 L472.0,352.5 L477.0,346.5 L484.0,349.5 L481.0,355.5 L482.0,376.0 L477.0,381.5 L473.0,379.5 Z" fill="#000" stroke="#000" stroke-width="1.6" stroke-linejoin="round" stroke-linecap="round" />
<path d="M476.0,351.5 L480.0,350.5 L479.0,354.5 L476.0,355.5 Z" fill="#fff" stroke="#000" stroke-width="0.5" stroke-linejoin="round" stroke-linecap="round" />
<path d="M474.5,361.5 L476.5,361.5 L476.5,366.5 L474.5,366.5 Z" fill="#fff" stroke="#000" stroke-width="0.3" stroke-linejoin="round" stroke-linecap="round" />
<ellipse cx="477.0" cy="378.0" rx="1.6" ry="3.0" transform="rotate(10 477.0 378.0)" fill="#fff" stroke="#000" stroke-width="0.3" />
<ellipse cx="555.5" cy="419.5" rx="20.0" ry="27.5" transform="rotate(24 555.5 419.5)" fill="none" stroke="#000" stroke-width="3.0" />
<ellipse cx="556.5" cy="420.0" rx="16.5" ry="24.0" transform="rotate(24 556.5 420.0)" fill="none" stroke="#000" stroke-width="1.6" />
<path d="M575.0,383.0 L581.0,378.0 L586.0,383.0 L584.0,392.0 L586.0,402.0 L580.0,405.0 L576.0,396.0 Z" fill="#fff" stroke="#000" stroke-width="1.8" stroke-linejoin="round" stroke-linecap="round" />
<path d="M577,386 L583,383 M578,392 L584,390" fill="none" stroke="#000" stroke-width="2.2" stroke-linejoin="round" stroke-linecap="round" />
<path d="M600,409 L581,408 C566,415 558,440 578,455 L600,470 Z" fill="#fff" stroke="#000" stroke-width="0.1" stroke-linejoin="round" stroke-linecap="round" />
<path d="M576.4,453.6 L575.4,452.9 L574.3,452.1 L573.4,451.3 L572.4,450.4 L571.6,449.4 L570.8,448.4 L570.0,447.3 L569.4,446.1 L568.8,444.9 L568.3,443.6 L567.8,442.3 L567.5,441.0 L567.2,439.6 L567.0,438.2 L566.8,436.7 L566.8,435.3 L566.8,433.8 L566.9,432.3 L567.1,430.9 L567.4,429.4 L567.8,427.9 L568.2,426.5 L568.7,425.1 L569.3,423.7 L569.9,422.3 L570.6,421.0 L571.4,419.7 L572.3,418.4 L573.2,417.2 L574.2,416.1 L575.2,415.0 L576.2,414.0 L577.4,413.1 L578.5,412.2 L579.7,411.4 L580.9,410.7 L582.2,410.1 L583.4,409.6 L584.7,409.1 L586.0,408.7 L587.3,408.4 L588.7,408.2 L590.0,408.1 L591.3,408.1 L592.6,408.2 L593.8,408.4 L595.1,408.6 L596.3,409.0" fill="none" stroke="#000" stroke-width="2.6" stroke-linejoin="round" stroke-linecap="round" />
<path d="M578.1,450.1 L577.3,449.5 L576.5,448.8 L575.8,448.0 L575.1,447.2 L574.5,446.4 L573.9,445.5 L573.4,444.5 L572.9,443.5 L572.5,442.5 L572.2,441.4 L571.9,440.3 L571.6,439.2 L571.5,438.0 L571.3,436.8 L571.3,435.7 L571.3,434.5 L571.4,433.2 L571.5,432.0 L571.7,430.8 L571.9,429.6 L572.2,428.4 L572.6,427.2 L573.0,426.0 L573.5,424.9 L574.0,423.8 L574.6,422.7 L575.3,421.6 L576.0,420.5 L576.7,419.5 L577.5,418.6 L578.3,417.7 L579.1,416.8 L580.0,416.0 L580.9,415.3 L581.9,414.6 L582.9,413.9 L583.9,413.3 L584.9,412.8 L585.9,412.4 L587.0,412.0 L588.0,411.7 L589.1,411.4 L590.1,411.3 L591.2,411.1 L592.2,411.1 L593.3,411.1 L594.3,411.2 L595.3,411.4" fill="none" stroke="#000" stroke-width="1.1" stroke-linejoin="round" stroke-linecap="round" />
<line x1="581.0" y1="408.0" x2="599.0" y2="409.5" stroke="#000" stroke-width="2.2" stroke-linecap="round" />
<path d="M598,410 Q582,425 577.3,445" fill="none" stroke="#000" stroke-width="2.2" stroke-linejoin="round" stroke-linecap="round" />
<path d="M600.5,409.5 L603.0,407.5 L610.3,406.3 L615.0,408.5 L617.0,414.0 L632.1,422.1 L635.0,429.2 L636.0,458.0 L628.0,470.0 L616.0,475.0 L608.7,475.6 L602.6,471.7 L590.0,462.0 L581.0,454.0 L578.0,447.0 L582.0,440.0 L590.0,425.0 Z" fill="#fff" stroke="#000" stroke-width="2.2" stroke-linejoin="round" stroke-linecap="round" />
<path d="M604,414 L612,412.5 L614,417 M584,444 L590,440 L593,450" fill="none" stroke="#000" stroke-width="1.2" stroke-linejoin="round" stroke-linecap="round" />
<ellipse cx="611.0" cy="443.0" rx="19.0" ry="25.0" transform="rotate(22 611.0 443.0)" fill="#fff" stroke="#000" stroke-width="1.8" />
<ellipse cx="611.5" cy="443.5" rx="16.5" ry="22.5" transform="rotate(22 611.5 443.5)" fill="#000" stroke="#000" stroke-width="1" />
<ellipse cx="613.0" cy="444.5" rx="9.5" ry="14.5" transform="rotate(22 613.0 444.5)" fill="#fff" stroke="#000" stroke-width="1" />
<line x1="606.0" y1="436.0" x2="614.0" y2="439.0" stroke="#000" stroke-width="1.3"/>
<line x1="608.2" y1="439.2" x2="616.2" y2="442.2" stroke="#000" stroke-width="1.3"/>
<line x1="610.4" y1="442.4" x2="618.4" y2="445.4" stroke="#000" stroke-width="1.3"/>
<line x1="612.6" y1="445.6" x2="620.6" y2="448.6" stroke="#000" stroke-width="1.3"/>
<line x1="614.8" y1="448.8" x2="622.8" y2="451.8" stroke="#000" stroke-width="1.3"/>
<ellipse cx="595.5" cy="418.0" rx="1.7" ry="1.7" transform="rotate(0 595.5 418.0)" fill="#000" stroke="#000" stroke-width="1" />
<ellipse cx="588.0" cy="446.0" rx="1.7" ry="1.7" transform="rotate(0 588.0 446.0)" fill="#000" stroke="#000" stroke-width="1" />
<ellipse cx="608.0" cy="470.0" rx="1.7" ry="1.7" transform="rotate(0 608.0 470.0)" fill="#000" stroke="#000" stroke-width="1" />
<ellipse cx="629.0" cy="451.5" rx="16.0" ry="20.0" transform="rotate(14 629.0 451.5)" fill="#fff" stroke="#000" stroke-width="2.4" />
<ellipse cx="631.5" cy="453.0" rx="16.0" ry="20.0" transform="rotate(14 631.5 453.0)" fill="none" stroke="#000" stroke-width="1.1" />
<ellipse cx="634.6" cy="455.0" rx="16.0" ry="20.0" transform="rotate(14 634.6 455.0)" fill="#fff" stroke="#000" stroke-width="3.0" />
<ellipse cx="68.0" cy="438.0" rx="19.5" ry="22.5" transform="rotate(20 68.0 438.0)" fill="#fff" stroke="#000" stroke-width="2.2" />
<ellipse cx="65.3" cy="438.6" rx="19.5" ry="22.5" transform="rotate(20 65.3 438.6)" fill="#fff" stroke="#000" stroke-width="2.3" />
<ellipse cx="65.6" cy="438.4" rx="16.3" ry="19.3" transform="rotate(20 65.6 438.4)" fill="none" stroke="#000" stroke-width="1.1" />
<ellipse cx="66.2" cy="437.6" rx="11.2" ry="14.6" transform="rotate(20 66.2 437.6)" fill="#fff" stroke="#000" stroke-width="2.4" />
<path d="M61,427 A9.5,13 20 0 0 63,449" fill="none" stroke="#000" stroke-width="1.2" stroke-linejoin="round" stroke-linecap="round" />
<ellipse cx="114.5" cy="460.0" rx="26.0" ry="29.5" transform="rotate(18 114.5 460.0)" fill="none" stroke="#000" stroke-width="2.6" />
<ellipse cx="115.5" cy="460.5" rx="22.5" ry="26.0" transform="rotate(18 115.5 460.5)" fill="none" stroke="#000" stroke-width="1.4" />
<path d="M135.5,418.0 L143.5,419.5 L141.5,425.0 L143.0,445.0 L138.5,456.0 L133.5,452.0 L135.5,440.0 L133.0,425.0 Z" fill="#fff" stroke="#000" stroke-width="1.8" stroke-linejoin="round" stroke-linecap="round" />
<path d="M135,424 L142,425.5 M134.5,432 L141.5,433" fill="none" stroke="#000" stroke-width="2.0" stroke-linejoin="round" stroke-linecap="round" />
<path d="M128.0,464.5 L136.5,462.5 L138.5,472.5 L130.0,475.0 Z" fill="#fff" stroke="#000" stroke-width="1.8" stroke-linejoin="round" stroke-linecap="round" />
<ellipse cx="151.5" cy="479.5" rx="13.0" ry="14.2" transform="rotate(10 151.5 479.5)" fill="#fff" stroke="#000" stroke-width="3.0" />
<ellipse cx="153.5" cy="479.5" rx="9.4" ry="10.0" transform="rotate(10 153.5 479.5)" fill="#fff" stroke="#000" stroke-width="2.6" />
<path d="M160.5,470.3 L160.5,457.3 L165.5,451.3 L172.5,454.3 L169.5,460.3 L170.5,481.5 L165.5,487.7 L161.5,485.7 Z" fill="#000" stroke="#000" stroke-width="1.6" stroke-linejoin="round" stroke-linecap="round" />
<path d="M164.5,456.3 L168.5,455.3 L167.5,459.3 L164.5,460.3 Z" fill="#fff" stroke="#000" stroke-width="0.5" stroke-linejoin="round" stroke-linecap="round" />
<path d="M163.0,466.3 L165.0,466.3 L165.0,471.3 L163.0,471.3 Z" fill="#fff" stroke="#000" stroke-width="0.3" stroke-linejoin="round" stroke-linecap="round" />
<ellipse cx="165.5" cy="483.5" rx="1.6" ry="3.0" transform="rotate(10 165.5 483.5)" fill="#fff" stroke="#000" stroke-width="0.3" />
<path d="M169.8,482.7 L170.8,482.0 L171.8,481.4 L172.9,481.0 L174.0,480.7 L175.2,480.6 L176.4,480.6 L177.5,480.8 L178.7,481.1 L179.8,481.6 L180.8,482.2 L181.7,483.0 L182.5,483.8 L183.2,484.8 L183.8,485.8 L184.2,486.9 L184.5,488.0 L184.6,489.2 L184.6,490.4 L184.4,491.5 L184.1,492.7 L183.6,493.8 L183.0,494.8 L182.2,495.7 L181.4,496.5 L180.4,497.2 L179.4,497.8 L178.3,498.2 L177.2,498.5 L176.0,498.6 L174.8,498.6 L173.7,498.4 L172.5,498.1 L171.4,497.6 L170.4,497.0 L169.5,496.2 L168.7,495.4 L168.0,494.4 L167.4,493.4 L167.0,492.3 L166.7,491.2 L170.7,490.5 L170.9,491.1 L171.1,491.7 L171.4,492.3 L171.8,492.8 L172.3,493.2 L172.8,493.7 L173.3,494.0 L173.9,494.3 L174.5,494.4 L175.2,494.5 L175.8,494.5 L176.5,494.5 L177.1,494.3 L177.7,494.1 L178.3,493.8 L178.8,493.4 L179.2,492.9 L179.7,492.4 L180.0,491.9 L180.3,491.3 L180.4,490.7 L180.5,490.0 L180.5,489.4 L180.5,488.7 L180.3,488.1 L180.1,487.5 L179.8,486.9 L179.4,486.4 L178.9,486.0 L178.4,485.5 L177.9,485.2 L177.3,484.9 L176.7,484.8 L176.0,484.7 L175.4,484.7 L174.7,484.7 L174.1,484.9 L173.5,485.1 L172.9,485.4 L172.4,485.8 Z" fill="#000" stroke="#000" stroke-width="2.0" stroke-linejoin="round" stroke-linecap="round" />
<path d="M172.0,483.6 L172.7,483.2 L173.5,482.9 L174.4,482.7 L175.2,482.6 L176.1,482.6 L176.9,482.8 L177.8,483.0 L178.6,483.3 L179.3,483.7 L180.0,484.2 L180.6,484.8 L181.2,485.4 L181.7,486.2 L182.0,486.9 L182.3,487.8 L182.5,488.6 L182.6,489.5 L182.5,490.3 L182.4,491.2 L182.2,492.0 L181.8,492.8 L181.4,493.5 L180.8,494.2 L180.2,494.8 L179.6,495.3 L178.8,495.8 L178.0,496.1 L177.2,496.4 L176.4,496.5 L175.5,496.6 L174.7,496.5 L173.8,496.3 L173.0,496.1 L172.2,495.7 L171.5,495.2 L170.8,494.7 L170.2,494.1 L169.7,493.4 L169.3,492.6 L169.0,491.8" fill="none" stroke="#fff" stroke-width="1.1" stroke-linejoin="round" stroke-linecap="round" />
<path d="M187.9,489.3 L188.9,488.6 L189.9,488.0 L191.0,487.6 L192.1,487.3 L193.3,487.2 L194.5,487.2 L195.6,487.4 L196.8,487.7 L197.9,488.2 L198.9,488.8 L199.8,489.6 L200.6,490.4 L201.3,491.4 L201.9,492.4 L202.3,493.5 L202.6,494.6 L202.7,495.8 L202.7,497.0 L202.5,498.1 L202.2,499.3 L201.7,500.4 L201.1,501.4 L200.3,502.3 L199.5,503.1 L198.5,503.8 L197.5,504.4 L196.4,504.8 L195.3,505.1 L194.1,505.2 L192.9,505.2 L191.8,505.0 L190.6,504.7 L189.5,504.2 L188.5,503.6 L187.6,502.8 L186.8,502.0 L186.1,501.0 L185.5,500.0 L185.1,498.9 L184.8,497.8 L188.8,497.1 L189.0,497.7 L189.2,498.3 L189.5,498.9 L189.9,499.4 L190.4,499.8 L190.9,500.3 L191.4,500.6 L192.0,500.9 L192.6,501.0 L193.3,501.1 L193.9,501.1 L194.6,501.1 L195.2,500.9 L195.8,500.7 L196.4,500.4 L196.9,500.0 L197.3,499.5 L197.8,499.0 L198.1,498.5 L198.4,497.9 L198.5,497.3 L198.6,496.6 L198.6,496.0 L198.6,495.3 L198.4,494.7 L198.2,494.1 L197.9,493.5 L197.5,493.0 L197.0,492.6 L196.5,492.1 L196.0,491.8 L195.4,491.5 L194.8,491.4 L194.1,491.3 L193.5,491.3 L192.8,491.3 L192.2,491.5 L191.6,491.7 L191.0,492.0 L190.5,492.4 Z" fill="#000" stroke="#000" stroke-width="2.0" stroke-linejoin="round" stroke-linecap="round" />
<path d="M190.1,490.2 L190.8,489.8 L191.6,489.5 L192.5,489.3 L193.3,489.2 L194.2,489.2 L195.0,489.4 L195.9,489.6 L196.7,489.9 L197.4,490.3 L198.1,490.8 L198.7,491.4 L199.3,492.0 L199.8,492.8 L200.1,493.5 L200.4,494.4 L200.6,495.2 L200.7,496.1 L200.6,496.9 L200.5,497.8 L200.3,498.6 L199.9,499.4 L199.5,500.1 L198.9,500.8 L198.3,501.4 L197.7,501.9 L196.9,502.4 L196.1,502.7 L195.3,503.0 L194.5,503.1 L193.6,503.2 L192.8,503.1 L191.9,502.9 L191.1,502.7 L190.3,502.3 L189.6,501.8 L188.9,501.3 L188.3,500.7 L187.8,500.0 L187.4,499.2 L187.1,498.4" fill="none" stroke="#fff" stroke-width="1.1" stroke-linejoin="round" stroke-linecap="round" />
<g transform="translate(242.0,457.0) rotate(24)">
<path d="M-14.0,-31.0 L-27.0,-31.0 A13.0,31.0 0 0 0 -27.0,31.0 L-14.0,31.0" fill="#fff" stroke="#000" stroke-width="2.4" stroke-linejoin="round" stroke-linecap="round" />
<path d="M-22.0,31.0 A13.0,31.0 0 0 1 -22.0,-31.0" fill="none" stroke="#000" stroke-width="1.4" stroke-linejoin="round" stroke-linecap="round" />
<path d="M-18.0,31.0 A13.0,31.0 0 0 1 -18.0,-31.0" fill="none" stroke="#000" stroke-width="2.4" stroke-linejoin="round" stroke-linecap="round" />
<path d="M-14.0,30.0 A12.6,30.0 0 0 1 -14.0,-30.0" fill="none" stroke="#000" stroke-width="1.4" stroke-linejoin="round" stroke-linecap="round" />
<ellipse cx="-9.0" cy="0.0" rx="11.8" ry="28.0" fill="#fff" stroke="#000" stroke-width="2.2"/>
<ellipse cx="-1.0" cy="0.0" rx="9.9" ry="23.5" fill="#fff" stroke="#000" stroke-width="2.2"/>
<ellipse cx="7.0" cy="0.0" rx="8.0" ry="19.0" fill="#fff" stroke="#000" stroke-width="2.2"/>
<ellipse cx="14.0" cy="0.0" rx="6.3" ry="15.0" fill="#fff" stroke="#000" stroke-width="2.2"/>
<path d="M32.0,-11.0 L14.0,-11.0 A6.1,11.0 0 0 0 14.0,11.0 L32.0,11.0" fill="#fff" stroke="#000" stroke-width="2.2" stroke-linejoin="round" stroke-linecap="round" />
<ellipse cx="32.0" cy="0" rx="6.1" ry="11.0" fill="#fff" stroke="#000" stroke-width="2.2"/>
<ellipse cx="20.0" cy="0.0" rx="5.5" ry="11.0" fill="none" stroke="#000" stroke-width="1.6"/>
<ellipse cx="25.0" cy="0.0" rx="5.5" ry="11.0" fill="none" stroke="#000" stroke-width="1.6"/>
<ellipse cx="32.0" cy="0.0" rx="5.1" ry="8.5" fill="#fff" stroke="#000" stroke-width="1.5"/>
<ellipse cx="33.0" cy="0.0" rx="3.6" ry="6.0" fill="#000" stroke="#000" stroke-width="2.0"/>
<path d="M-31.5,29.1 A13.0,31.0 0 0 1 -35.4,-23.7" fill="none" stroke="#000" stroke-width="4.5" stroke-linejoin="round" stroke-linecap="round" />
<path d="M-10.0,27.9 A11.8,28.0 0 0 1 -19.2,14.0" fill="none" stroke="#000" stroke-width="3.5" stroke-linejoin="round" stroke-linecap="round" />
</g>
<path d="M65.0,585.5 L66.7,583.6 L68.6,581.9 L70.7,580.5 L72.9,579.4 L75.2,578.7 L77.6,578.2 L80.1,578.1 L82.5,578.3 L85.0,578.9 L87.3,579.8 L89.6,581.0 L91.8,582.5 L93.7,584.2 L95.5,586.3 L97.1,588.5 L98.5,590.9 L99.6,593.5 L100.5,596.2 L101.0,599.0 L101.3,601.8 L101.3,604.6 L100.9,607.4 L100.3,610.1 L99.5,612.7 L98.3,615.1 L96.9,617.4 L95.3,619.4 L93.5,621.1 L91.4,622.6 L89.3,623.8 L87.0,624.7 L84.6,625.3 L82.2,625.5 L79.7,625.4 L77.3,624.9 L74.9,624.2 L72.6,623.1 L70.4,621.7 L68.3,620.0 L66.4,618.1 L64.8,615.9 L63.3,613.5 L62.1,611.0 L61.2,608.3 L60.5,605.6 L60.2,602.8 L60.1,599.9 L60.3,597.1" fill="none" stroke="#000" stroke-width="2.6" stroke-linejoin="round" stroke-linecap="round" />
<path d="M68.1,586.6 L69.6,585.0 L71.3,583.7 L73.1,582.7 L75.0,581.9 L77.0,581.4 L79.1,581.1 L81.2,581.1 L83.3,581.5 L85.3,582.1 L87.3,582.9 L89.2,584.0 L91.0,585.4 L92.6,587.0 L94.1,588.8 L95.4,590.8 L96.5,592.9 L97.5,595.1 L98.1,597.5 L98.6,599.9 L98.8,602.3 L98.8,604.7 L98.5,607.1 L98.0,609.4 L97.2,611.7 L96.3,613.7 L95.1,615.7 L93.7,617.4 L92.2,619.0 L90.5,620.3 L88.7,621.3 L86.8,622.1 L84.8,622.6 L82.7,622.9 L80.6,622.9 L78.5,622.5 L76.5,621.9 L74.5,621.1 L72.6,620.0 L70.8,618.6 L69.2,617.0 L67.7,615.2 L66.4,613.2 L65.3,611.1 L64.3,608.9 L63.7,606.5 L63.2,604.1 L63.0,601.7 L63.0,599.3" fill="none" stroke="#000" stroke-width="1.1" stroke-linejoin="round" stroke-linecap="round" />
<path d="M102.2,608.6 L103.2,607.9 L104.2,607.3 L105.3,606.9 L106.4,606.6 L107.6,606.5 L108.8,606.5 L109.9,606.7 L111.1,607.0 L112.2,607.5 L113.2,608.1 L114.1,608.9 L114.9,609.7 L115.6,610.7 L116.2,611.7 L116.6,612.8 L116.9,613.9 L117.0,615.1 L117.0,616.3 L116.8,617.4 L116.5,618.6 L116.0,619.7 L115.4,620.7 L114.6,621.6 L113.8,622.4 L112.8,623.1 L111.8,623.7 L110.7,624.1 L109.6,624.4 L108.4,624.5 L107.2,624.5 L106.1,624.3 L104.9,624.0 L103.8,623.5 L102.8,622.9 L101.9,622.1 L101.1,621.3 L100.4,620.3 L99.8,619.3 L99.4,618.2 L99.1,617.1 L103.1,616.4 L103.3,617.0 L103.5,617.6 L103.8,618.2 L104.2,618.7 L104.7,619.1 L105.2,619.6 L105.7,619.9 L106.3,620.2 L106.9,620.3 L107.6,620.4 L108.2,620.4 L108.9,620.4 L109.5,620.2 L110.1,620.0 L110.7,619.7 L111.2,619.3 L111.6,618.8 L112.1,618.3 L112.4,617.8 L112.7,617.2 L112.8,616.6 L112.9,615.9 L112.9,615.3 L112.9,614.6 L112.7,614.0 L112.5,613.4 L112.2,612.8 L111.8,612.3 L111.3,611.9 L110.8,611.4 L110.3,611.1 L109.7,610.8 L109.1,610.7 L108.4,610.6 L107.8,610.6 L107.1,610.6 L106.5,610.8 L105.9,611.0 L105.3,611.3 L104.8,611.7 Z" fill="#000" stroke="#000" stroke-width="2.0" stroke-linejoin="round" stroke-linecap="round" />
<path d="M104.4,609.5 L105.1,609.1 L105.9,608.8 L106.8,608.6 L107.6,608.5 L108.5,608.5 L109.3,608.7 L110.2,608.9 L111.0,609.2 L111.7,609.6 L112.4,610.1 L113.0,610.7 L113.6,611.3 L114.1,612.1 L114.4,612.8 L114.7,613.7 L114.9,614.5 L115.0,615.4 L114.9,616.2 L114.8,617.1 L114.6,617.9 L114.2,618.7 L113.8,619.4 L113.2,620.1 L112.6,620.7 L112.0,621.2 L111.2,621.7 L110.4,622.0 L109.6,622.3 L108.8,622.4 L107.9,622.5 L107.1,622.4 L106.2,622.2 L105.4,622.0 L104.6,621.6 L103.9,621.1 L103.2,620.6 L102.6,620.0 L102.1,619.3 L101.7,618.5 L101.4,617.7" fill="none" stroke="#fff" stroke-width="1.1" stroke-linejoin="round" stroke-linecap="round" />
<path d="M120.3,617.6 L121.3,616.9 L122.3,616.3 L123.4,615.9 L124.5,615.6 L125.7,615.5 L126.9,615.5 L128.0,615.7 L129.2,616.0 L130.3,616.5 L131.3,617.1 L132.2,617.9 L133.0,618.7 L133.7,619.7 L134.3,620.7 L134.7,621.8 L135.0,622.9 L135.1,624.1 L135.1,625.3 L134.9,626.4 L134.6,627.6 L134.1,628.7 L133.5,629.7 L132.7,630.6 L131.9,631.4 L130.9,632.1 L129.9,632.7 L128.8,633.1 L127.7,633.4 L126.5,633.5 L125.3,633.5 L124.2,633.3 L123.0,633.0 L121.9,632.5 L120.9,631.9 L120.0,631.1 L119.2,630.3 L118.5,629.3 L117.9,628.3 L117.5,627.2 L117.2,626.1 L121.2,625.4 L121.4,626.0 L121.6,626.6 L121.9,627.2 L122.3,627.7 L122.8,628.1 L123.3,628.6 L123.8,628.9 L124.4,629.2 L125.0,629.3 L125.7,629.4 L126.3,629.4 L127.0,629.4 L127.6,629.2 L128.2,629.0 L128.8,628.7 L129.3,628.3 L129.7,627.8 L130.2,627.3 L130.5,626.8 L130.8,626.2 L130.9,625.6 L131.0,624.9 L131.0,624.3 L131.0,623.6 L130.8,623.0 L130.6,622.4 L130.3,621.8 L129.9,621.3 L129.4,620.9 L128.9,620.4 L128.4,620.1 L127.8,619.8 L127.2,619.7 L126.5,619.6 L125.9,619.6 L125.2,619.6 L124.6,619.8 L124.0,620.0 L123.4,620.3 L122.9,620.7 Z" fill="#000" stroke="#000" stroke-width="2.0" stroke-linejoin="round" stroke-linecap="round" />
<path d="M122.5,618.5 L123.2,618.1 L124.0,617.8 L124.9,617.6 L125.7,617.5 L126.6,617.5 L127.4,617.7 L128.3,617.9 L129.1,618.2 L129.8,618.6 L130.5,619.1 L131.1,619.7 L131.7,620.3 L132.2,621.1 L132.5,621.8 L132.8,622.7 L133.0,623.5 L133.1,624.4 L133.0,625.2 L132.9,626.1 L132.7,626.9 L132.3,627.7 L131.9,628.4 L131.3,629.1 L130.7,629.7 L130.1,630.2 L129.3,630.7 L128.5,631.0 L127.7,631.3 L126.9,631.4 L126.0,631.5 L125.2,631.4 L124.3,631.2 L123.5,631.0 L122.7,630.6 L122.0,630.1 L121.3,629.6 L120.7,629.0 L120.2,628.3 L119.8,627.5 L119.5,626.7" fill="none" stroke="#fff" stroke-width="1.1" stroke-linejoin="round" stroke-linecap="round" />
<ellipse cx="149.5" cy="636.0" rx="13.2" ry="14.8" transform="rotate(10 149.5 636.0)" fill="#fff" stroke="#000" stroke-width="3.0" />
<ellipse cx="151.5" cy="636.0" rx="9.6" ry="10.6" transform="rotate(10 151.5 636.0)" fill="#fff" stroke="#000" stroke-width="2.6" />
<path d="M157.5,626.2 L157.5,613.2 L162.5,607.2 L169.5,610.2 L166.5,616.2 L167.5,638.0 L162.5,644.8 L158.5,642.8 Z" fill="#000" stroke="#000" stroke-width="1.6" stroke-linejoin="round" stroke-linecap="round" />
<path d="M161.5,612.2 L165.5,611.2 L164.5,615.2 L161.5,616.2 Z" fill="#fff" stroke="#000" stroke-width="0.5" stroke-linejoin="round" stroke-linecap="round" />
<path d="M160.0,622.2 L162.0,622.2 L162.0,627.2 L160.0,627.2 Z" fill="#fff" stroke="#000" stroke-width="0.3" stroke-linejoin="round" stroke-linecap="round" />
<ellipse cx="162.5" cy="640.0" rx="1.6" ry="3.0" transform="rotate(10 162.5 640.0)" fill="#fff" stroke="#000" stroke-width="0.3" />
<ellipse cx="191.0" cy="655.0" rx="25.0" ry="29.5" transform="rotate(18 191.0 655.0)" fill="none" stroke="#000" stroke-width="2.6" />
<ellipse cx="192.0" cy="655.5" rx="21.5" ry="26.0" transform="rotate(18 192.0 655.5)" fill="none" stroke="#000" stroke-width="1.4" />
<path d="M200.0,610.0 L205.0,605.2 L210.0,606.0 L209.0,614.0 L213.0,630.0 L217.0,645.0 L214.0,652.0 L209.0,646.0 L206.0,628.0 L202.0,618.0 Z" fill="#fff" stroke="#000" stroke-width="1.8" stroke-linejoin="round" stroke-linecap="round" />
<path d="M203,614 L210,616 M204,621 L211,623" fill="none" stroke="#000" stroke-width="2.0" stroke-linejoin="round" stroke-linecap="round" />
<path d="M206.0,656.0 L214.0,654.0 L216.0,664.0 L208.0,667.0 Z" fill="#fff" stroke="#000" stroke-width="1.8" stroke-linejoin="round" stroke-linecap="round" />
<g transform="translate(253.0,631.0) rotate(24)">
<path d="M-17.0,-11.5 L-30.0,-11.5 A5.8,11.5 0 0 0 -30.0,11.5 L-17.0,11.5" fill="#fff" stroke="#000" stroke-width="2.4" stroke-linejoin="round" stroke-linecap="round" />
<ellipse cx="-17.0" cy="0" rx="5.8" ry="11.5" fill="#fff" stroke="#000" stroke-width="2.4"/>
<ellipse cx="-27.0" cy="0.0" rx="5.2" ry="11.5" fill="none" stroke="#000" stroke-width="2.2"/>
<ellipse cx="-24.0" cy="0.0" rx="5.2" ry="11.5" fill="none" stroke="#000" stroke-width="2.2"/>
<ellipse cx="-21.0" cy="0.0" rx="5.2" ry="11.5" fill="none" stroke="#000" stroke-width="2.2"/>
<ellipse cx="-14.0" cy="0.0" rx="5.7" ry="13.5" fill="#fff" stroke="#000" stroke-width="2.6"/>
<ellipse cx="-9.0" cy="0.0" rx="7.3" ry="17.5" fill="#fff" stroke="#000" stroke-width="2.2"/>
<ellipse cx="-3.0" cy="0.0" rx="9.2" ry="22.0" fill="#fff" stroke="#000" stroke-width="2.6"/>
<ellipse cx="3.0" cy="0.0" rx="10.9" ry="26.0" fill="#fff" stroke="#000" stroke-width="2.2"/>
<ellipse cx="9.0" cy="0.0" rx="12.4" ry="29.5" fill="#fff" stroke="#000" stroke-width="2.6"/>
<ellipse cx="15.0" cy="0.0" rx="13.0" ry="31.0" fill="#fff" stroke="#000" stroke-width="2.2"/>
<ellipse cx="19.0" cy="0.0" rx="24.8" ry="31.0" fill="#fff" stroke="#000" stroke-width="3.0"/>
<ellipse cx="19.5" cy="0.0" rx="21.8" ry="28.0" fill="none" stroke="#000" stroke-width="1.4"/>
<path d="M22.3,24.6 A18.8,25.0 0 1 1 22.3,-24.6" fill="none" stroke="#000" stroke-width="3.4" stroke-linejoin="round" stroke-linecap="round" />
<path d="M23.9,20.3 A15.1,21.0 0 1 1 23.9,-20.3" fill="none" stroke="#000" stroke-width="1.8" stroke-linejoin="round" stroke-linecap="round" />
<path d="M25.1,16.0 A11.9,17.0 0 1 1 25.1,-16.0" fill="none" stroke="#000" stroke-width="3.0" stroke-linejoin="round" stroke-linecap="round" />
<path d="M25.0,12.2 A8.8,13.0 0 1 1 25.0,-12.2" fill="none" stroke="#000" stroke-width="1.6" stroke-linejoin="round" stroke-linecap="round" />
<path d="M-15.0,13.3 A5.7,13.5 0 0 1 -16.8,-11.7" fill="none" stroke="#000" stroke-width="4" stroke-linejoin="round" stroke-linecap="round" />
<path d="M1.1,25.6 A10.9,26.0 0 0 1 -7.3,-8.9" fill="none" stroke="#000" stroke-width="4" stroke-linejoin="round" stroke-linecap="round" />
</g>
<path d="M483,662.5 L512,662.5 L509,658 L520.5,664.5 L509,671 L512,666.5 L483,666.5 Z" fill="none" stroke="#000" stroke-width="1.3" stroke-linejoin="round" stroke-linecap="round" />
<path d="M543,634 L594,633.2 L594,697 L543,697 Z" fill="#fff" stroke="#000" stroke-width="2.0" stroke-linejoin="round" stroke-linecap="round" />
<path d="M537.5,636 Q537.3,635 543,634.5 L543,697 Q537.3,697 537.5,695 Z" fill="#fff" stroke="#000" stroke-width="2.0" stroke-linejoin="round" stroke-linecap="round" />
<line x1="550.5" y1="634.5" x2="550.5" y2="696.5" stroke="#000" stroke-width="1.8" stroke-linecap="round" />
<path d="M593.5,612.5 L601,612.5 L601,701.5 L593.5,701.5 Z" fill="#fff" stroke="#000" stroke-width="2.0" stroke-linejoin="round" stroke-linecap="round" />
<path d="M601,633 L604.2,633.5 L604.2,696.5 L601,697" fill="none" stroke="#000" stroke-width="1.8" stroke-linejoin="round" stroke-linecap="round" />
<g transform="translate(514.3,878.7)"><g fill="#000"><g transform="rotate(0)"><path d="M-13.5,-31 Q-10.5,-34 -10.5,-46.5 A10.5,10.5 0 0 1 10.5,-46.5 Q10.5,-34 13.5,-31 Z"/></g><g transform="rotate(90)"><path d="M-13.5,-31 Q-10.5,-34 -10.5,-46.5 A10.5,10.5 0 0 1 10.5,-46.5 Q10.5,-34 13.5,-31 Z"/></g><g transform="rotate(180)"><path d="M-13.5,-31 Q-10.5,-34 -10.5,-46.5 A10.5,10.5 0 0 1 10.5,-46.5 Q10.5,-34 13.5,-31 Z"/></g><g transform="rotate(270)"><path d="M-13.5,-31 Q-10.5,-34 -10.5,-46.5 A10.5,10.5 0 0 1 10.5,-46.5 Q10.5,-34 13.5,-31 Z"/></g><circle r="38.8"/></g><g fill="#fff"><g transform="rotate(0)"><path d="M-11.5,-31 Q-8.7,-34 -8.7,-46.5 A8.7,8.7 0 0 1 8.7,-46.5 Q8.7,-34 11.5,-31 Z"/></g><g transform="rotate(90)"><path d="M-11.5,-31 Q-8.7,-34 -8.7,-46.5 A8.7,8.7 0 0 1 8.7,-46.5 Q8.7,-34 11.5,-31 Z"/></g><g transform="rotate(180)"><path d="M-11.5,-31 Q-8.7,-34 -8.7,-46.5 A8.7,8.7 0 0 1 8.7,-46.5 Q8.7,-34 11.5,-31 Z"/></g><g transform="rotate(270)"><path d="M-11.5,-31 Q-8.7,-34 -8.7,-46.5 A8.7,8.7 0 0 1 8.7,-46.5 Q8.7,-34 11.5,-31 Z"/></g><circle r="37"/></g><circle cx="46.5" cy="0.0" r="4.8" fill="#fff" stroke="#000" stroke-width="1.8"/><circle cx="0.0" cy="46.5" r="4.8" fill="#fff" stroke="#000" stroke-width="1.8"/><circle cx="-46.5" cy="0.0" r="4.8" fill="#fff" stroke="#000" stroke-width="1.8"/><circle cx="-0.0" cy="-46.5" r="4.8" fill="#fff" stroke="#000" stroke-width="1.8"/><circle r="32.5" fill="#fff" stroke="#000" stroke-width="3.2"/><circle r="35.2" fill="none" stroke="#000" stroke-width="1"/></g>
<g transform="translate(650.7,878.7)"><g fill="#000"><g transform="rotate(0)"><path d="M-13.5,-31 Q-10.5,-34 -10.5,-46.5 A10.5,10.5 0 0 1 10.5,-46.5 Q10.5,-34 13.5,-31 Z"/></g><g transform="rotate(90)"><path d="M-13.5,-31 Q-10.5,-34 -10.5,-46.5 A10.5,10.5 0 0 1 10.5,-46.5 Q10.5,-34 13.5,-31 Z"/></g><g transform="rotate(180)"><path d="M-13.5,-31 Q-10.5,-34 -10.5,-46.5 A10.5,10.5 0 0 1 10.5,-46.5 Q10.5,-34 13.5,-31 Z"/></g><g transform="rotate(270)"><path d="M-13.5,-31 Q-10.5,-34 -10.5,-46.5 A10.5,10.5 0 0 1 10.5,-46.5 Q10.5,-34 13.5,-31 Z"/></g><circle r="38.8"/></g><g fill="#fff"><g transform="rotate(0)"><path d="M-11.5,-31 Q-8.7,-34 -8.7,-46.5 A8.7,8.7 0 0 1 8.7,-46.5 Q8.7,-34 11.5,-31 Z"/></g><g transform="rotate(90)"><path d="M-11.5,-31 Q-8.7,-34 -8.7,-46.5 A8.7,8.7 0 0 1 8.7,-46.5 Q8.7,-34 11.5,-31 Z"/></g><g transform="rotate(180)"><path d="M-11.5,-31 Q-8.7,-34 -8.7,-46.5 A8.7,8.7 0 0 1 8.7,-46.5 Q8.7,-34 11.5,-31 Z"/></g><g transform="rotate(270)"><path d="M-11.5,-31 Q-8.7,-34 -8.7,-46.5 A8.7,8.7 0 0 1 8.7,-46.5 Q8.7,-34 11.5,-31 Z"/></g><circle r="37"/></g><circle cx="46.5" cy="0.0" r="4.8" fill="#fff" stroke="#000" stroke-width="1.8"/><circle cx="0.0" cy="46.5" r="4.8" fill="#fff" stroke="#000" stroke-width="1.8"/><circle cx="-46.5" cy="0.0" r="4.8" fill="#fff" stroke="#000" stroke-width="1.8"/><circle cx="-0.0" cy="-46.5" r="4.8" fill="#fff" stroke="#000" stroke-width="1.8"/><circle r="32.5" fill="#fff" stroke="#000" stroke-width="3.2"/><circle r="35.2" fill="none" stroke="#000" stroke-width="1"/></g>
<path d="M543.8,878.7 L543.7,880.0 L543.5,881.3 L543.1,882.5 L542.5,883.7 L541.8,884.8 L541.0,885.8 L540.0,886.8 L539.0,887.7 L537.8,888.5 L536.7,889.1 L535.5,889.7 L534.2,890.2 L534.4,891.5 L534.5,892.9 L534.5,894.2 L534.4,895.6 L534.2,896.9 L533.8,898.2 L533.3,899.5 L532.7,900.6 L532.0,901.7 L531.1,902.7 L530.1,903.5 L529.0,904.2 L527.9,904.8 L526.7,905.2 L525.4,905.5 L524.1,905.6 L522.8,905.6 L521.4,905.4 L520.1,905.0 L518.9,904.6 L517.6,904.0 L516.5,903.3 L515.3,902.5 L514.3,901.7 L513.3,902.5 L512.1,903.3 L511.0,904.0 L509.7,904.6 L508.5,905.0 L507.2,905.4 L505.8,905.6 L504.5,905.6 L503.2,905.5 L501.9,905.2 L500.7,904.8 L499.5,904.2 L498.5,903.5 L497.5,902.7 L496.6,901.7 L495.9,900.6 L495.3,899.5 L494.8,898.2 L494.4,896.9 L494.2,895.6 L494.1,894.2 L494.1,892.9 L494.2,891.5 L494.4,890.2 L493.1,889.7 L491.9,889.1 L490.8,888.5 L489.6,887.7 L488.6,886.8 L487.6,885.8 L486.8,884.8 L486.1,883.7 L485.5,882.5 L485.1,881.3 L484.9,880.0 L484.8,878.7 L484.9,877.4 L485.1,876.1 L485.5,874.9 L486.1,873.7 L486.8,872.6 L487.6,871.6 L488.6,870.6 L489.6,869.7 L490.8,868.9 L491.9,868.3 L493.1,867.7 L494.4,867.2 L494.2,865.9 L494.1,864.5 L494.1,863.2 L494.2,861.8 L494.4,860.5 L494.8,859.2 L495.3,857.9 L495.9,856.8 L496.6,855.7 L497.5,854.7 L498.5,853.9 L499.5,853.2 L500.7,852.6 L501.9,852.2 L503.2,851.9 L504.5,851.8 L505.8,851.8 L507.2,852.0 L508.5,852.4 L509.7,852.8 L511.0,853.4 L512.1,854.1 L513.3,854.9 L514.3,855.7 L515.3,854.9 L516.5,854.1 L517.6,853.4 L518.9,852.8 L520.1,852.4 L521.4,852.0 L522.8,851.8 L524.1,851.8 L525.4,851.9 L526.7,852.2 L527.9,852.6 L529.0,853.2 L530.1,853.9 L531.1,854.7 L532.0,855.7 L532.7,856.8 L533.3,857.9 L533.8,859.2 L534.2,860.5 L534.4,861.8 L534.5,863.2 L534.5,864.5 L534.4,865.9 L534.2,867.2 L535.5,867.7 L536.7,868.3 L537.8,868.9 L539.0,869.7 L540.0,870.6 L541.0,871.6 L541.8,872.6 L542.5,873.7 L543.1,874.9 L543.5,876.1 L543.7,877.4 Z" fill="#fff" stroke="#000" stroke-width="1.9" stroke-linejoin="round" stroke-linecap="round" />
<line x1="538.5" y1="885.8" x2="532.5" y2="896.1" stroke="#000" stroke-width="3" stroke-linecap="round" />
<line x1="520.3" y1="903.2" x2="508.3" y2="903.2" stroke="#000" stroke-width="3" stroke-linecap="round" />
<line x1="496.1" y1="896.1" x2="490.1" y2="885.8" stroke="#000" stroke-width="3" stroke-linecap="round" />
<line x1="490.1" y1="871.6" x2="496.1" y2="861.3" stroke="#000" stroke-width="3" stroke-linecap="round" />
<line x1="508.3" y1="854.2" x2="520.3" y2="854.2" stroke="#000" stroke-width="3" stroke-linecap="round" />
<line x1="532.5" y1="861.3" x2="538.5" y2="871.6" stroke="#000" stroke-width="3" stroke-linecap="round" />
<path d="M672.5,878.7 L673.8,880.7 L674.9,883.0 L675.7,885.4 L676.2,888.0 L676.2,890.6 L675.7,893.2 L674.9,895.6 L673.6,897.9 L671.9,899.9 L669.9,901.6 L667.6,902.9 L665.2,903.7 L662.6,904.2 L660.0,904.2 L657.4,903.7 L655.0,902.9 L652.7,901.8 L650.7,900.5 L648.9,899.0 L647.4,897.5 L646.0,896.1 L644.2,896.6 L642.1,897.2 L639.8,897.6 L637.4,897.7 L634.9,897.6 L632.4,897.0 L629.9,896.1 L627.7,894.8 L625.7,893.2 L624.0,891.2 L622.6,888.9 L621.7,886.5 L621.3,883.9 L621.3,881.3 L621.8,878.7 L622.7,876.3 L624.0,874.0 L625.7,872.0 L627.6,870.3 L629.7,868.9 L631.8,867.8 L634.0,867.0 L636.1,866.5 L638.0,866.0 L638.5,864.1 L639.0,862.0 L639.8,859.8 L640.9,857.7 L642.3,855.6 L644.0,853.7 L646.0,852.0 L648.3,850.7 L650.7,849.8 L653.3,849.3 L655.9,849.3 L658.5,849.7 L660.9,850.6 L663.2,852.0 L665.2,853.7 L666.8,855.7 L668.1,857.9 L669.0,860.4 L669.6,862.9 L669.7,865.4 L669.6,867.8 L669.2,870.1 L668.6,872.2 L668.1,874.0 L669.5,875.4 L671.0,876.9 Z" fill="#fff" stroke="#000" stroke-width="2.0" stroke-linejoin="round" stroke-linecap="round" />
<line x1="667.0" y1="907.4" x2="622.2" y2="895.4" stroke="#000" stroke-width="2.4" stroke-linecap="round" />
<line x1="661.2" y1="910.0" x2="626.0" y2="900.5" stroke="#000" stroke-width="2.4" stroke-linecap="round" />
<line x1="617.7" y1="878.5" x2="650.5" y2="845.7" stroke="#000" stroke-width="2.4" stroke-linecap="round" />
<line x1="618.4" y1="872.2" x2="644.2" y2="846.4" stroke="#000" stroke-width="2.4" stroke-linecap="round" />
<line x1="667.4" y1="850.2" x2="679.4" y2="895.0" stroke="#000" stroke-width="2.4" stroke-linecap="round" />
<line x1="672.5" y1="854.0" x2="682.0" y2="889.2" stroke="#000" stroke-width="2.4" stroke-linecap="round" />
<g class="lbl">
<text x="118" y="170" font-size="16.06" textLength="42.8" lengthAdjust="spacingAndGlyphs">42344</text><text x="118" y="181" font-size="10.70" textLength="40" lengthAdjust="spacingAndGlyphs">COVER</text><line x1="140" y1="135" x2="140" y2="157" class="ld"/>
<text x="171.5" y="197" font-size="14.66" textLength="42.1" lengthAdjust="spacingAndGlyphs">42360</text><text x="171.5" y="208.2" font-size="11.25" textLength="32.5" lengthAdjust="spacingAndGlyphs">JOINT</text><line x1="194.2" y1="161.5" x2="194.2" y2="184.5" class="ld"/>
<text x="211" y="224.6" font-size="15.92" textLength="42.5" lengthAdjust="spacingAndGlyphs">42347</text><text x="211" y="235.5" font-size="11.66" textLength="40" lengthAdjust="spacingAndGlyphs">CLAMP</text><line x1="232.6" y1="175" x2="232.6" y2="211" class="ld"/>
<text x="290.6" y="227" font-size="13.97" textLength="43.7" lengthAdjust="spacingAndGlyphs">42345</text><text x="290.6" y="238" font-size="11.52" textLength="40" lengthAdjust="spacingAndGlyphs">CLAMP</text><line x1="311" y1="203" x2="311" y2="215.5" class="ld"/>
<text x="355.8" y="180.4" font-size="15.22" textLength="49.2" lengthAdjust="spacingAndGlyphs">42341A</text><text x="355.8" y="189.7" font-size="10.97" textLength="25.2" lengthAdjust="spacingAndGlyphs">RING</text><line x1="377.2" y1="193" x2="377.2" y2="208" class="ld"/>
<text x="336" y="250.4" font-size="14.94" textLength="54.4" lengthAdjust="spacingAndGlyphs">42341A</text><text x="336" y="260.7" font-size="11.39" textLength="30" lengthAdjust="spacingAndGlyphs">RING</text><line x1="357" y1="215.8" x2="357" y2="237.5" class="ld"/>
<text x="499" y="246.3" font-size="14.11" textLength="39.4" lengthAdjust="spacingAndGlyphs">42341</text><text x="499" y="255.8" font-size="10.84" textLength="34.6" lengthAdjust="spacingAndGlyphs">SHAFT</text><line x1="519.4" y1="258" x2="519.4" y2="278" class="ld"/>
<text x="363" y="284.5" font-size="15.36" textLength="49.8" lengthAdjust="spacingAndGlyphs">42350A</text><text x="363" y="294.2" font-size="10.29" textLength="25.1" lengthAdjust="spacingAndGlyphs">RING</text><line x1="384" y1="296" x2="384" y2="308.5" class="ld"/>
<text x="424.8" y="321.6" font-size="12.01" textLength="49.5" lengthAdjust="spacingAndGlyphs">42341A</text><text x="424.8" y="331.7" font-size="9.74" textLength="25.9" lengthAdjust="spacingAndGlyphs">RING</text><line x1="445.5" y1="334" x2="445.5" y2="352" class="ld"/>
<text x="386" y="393.3" font-size="15.36" textLength="49" lengthAdjust="spacingAndGlyphs">42341A</text><text x="386" y="402.4" font-size="9.60" textLength="24.7" lengthAdjust="spacingAndGlyphs">RING</text><line x1="406.7" y1="357" x2="406.7" y2="380.5" class="ld"/>
<text x="541" y="357.3" font-size="14.80" textLength="40" lengthAdjust="spacingAndGlyphs">42346</text><text x="541" y="366.4" font-size="10.43" textLength="37" lengthAdjust="spacingAndGlyphs">CLAMP</text><line x1="561.2" y1="368" x2="561.2" y2="392" class="ld"/>
<text x="624.8" y="392" font-size="14.66" textLength="43.1" lengthAdjust="spacingAndGlyphs">42343</text><text x="624.8" y="402.1" font-size="11.66" textLength="40" lengthAdjust="spacingAndGlyphs">COVER</text><line x1="646" y1="404" x2="646" y2="434.5" class="ld"/>
<text x="447.6" y="423.3" font-size="13.97" textLength="40" lengthAdjust="spacingAndGlyphs">42345</text><text x="447.6" y="433" font-size="10.29" textLength="36.4" lengthAdjust="spacingAndGlyphs">CLAMP</text><line x1="467.3" y1="387.6" x2="467.3" y2="412" class="ld"/>
<text x="589" y="495.8" font-size="15.08" textLength="40.4" lengthAdjust="spacingAndGlyphs">42350</text><text x="589" y="505.8" font-size="10.43" textLength="31.3" lengthAdjust="spacingAndGlyphs">JOINT</text><line x1="609.7" y1="475.5" x2="609.7" y2="483.5" class="ld"/>
<text x="523.6" y="140.3" font-size="15.22" textLength="43.1" lengthAdjust="spacingAndGlyphs">42340</text><text x="523.6" y="149.4" font-size="9.60" textLength="38.4" lengthAdjust="spacingAndGlyphs">SHAFT</text><line x1="544.8" y1="150.5" x2="544.8" y2="175" class="ld"/>
<text x="149.6" y="372" font-size="13.97" textLength="55.4" lengthAdjust="spacingAndGlyphs">42340K</text><text x="149.6" y="383" font-size="11.66" textLength="55" lengthAdjust="spacingAndGlyphs">BOOT KIT</text><line x1="171.3" y1="386" x2="171.3" y2="393" class="ld"/>
<text x="147.7" y="550.5" font-size="14.66" textLength="55.4" lengthAdjust="spacingAndGlyphs">42340K</text><text x="147.7" y="561" font-size="10.97" textLength="55.3" lengthAdjust="spacingAndGlyphs">BOOT KIT</text><line x1="169.6" y1="563" x2="169.6" y2="570.5" class="ld"/>
</g>
<g class="pn">
<text x="512" y="83.3" font-size="13.4" textLength="77.4" lengthAdjust="spacingAndGlyphs">94511-01000</text>
<text x="549" y="109" font-size="13.4" textLength="76.8" lengthAdjust="spacingAndGlyphs">90170-10191</text>
</g>
<text x="319" y="21.5" font-size="15.5" font-weight="bold" textLength="32.4" lengthAdjust="spacingAndGlyphs">NTN</text>
<line x1="318" y1="25.5" x2="352.5" y2="25.5" stroke="#000" stroke-width="1.8"/>
<path d="M98.5,18 L686,300 L686,558.5 L98.5,273 Z" class="fr"/>
<path d="M37.7,424.2 L37.7,393.2 L68.7,393.2 M273.4,393.2 L304.4,393.2 L304.4,424.2 M304.4,485.20000000000005 L304.4,516.2 L273.4,516.2 M68.7,516.2 L37.7,516.2 L37.7,485.20000000000005" class="dash"/><line x1="68.7" y1="393.2" x2="223" y2="393.2" stroke="#000" stroke-width="1.2"/><line x1="223" y1="393.2" x2="273.4" y2="393.2" stroke="#000" stroke-width="2"/><line x1="37.7" y1="424.2" x2="37.7" y2="485.2" stroke="#000" stroke-width="1.2"/><line x1="304.4" y1="424.2" x2="304.4" y2="463" stroke="#000" stroke-width="1.2"/><line x1="304.4" y1="463" x2="304.4" y2="485.2" stroke="#000" stroke-width="2"/><line x1="68.7" y1="516.2" x2="273.4" y2="516.2" stroke="#000" stroke-width="1.3"/>
<path d="M36,602.2 L36,571.2 L67,571.2 M271.8,571.2 L302.8,571.2 L302.8,602.2 M302.8,661 L302.8,692 L271.8,692 M67,692 L36,692 L36,661" class="dash"/><line x1="67" y1="571.2" x2="110" y2="571.2" stroke="#000" stroke-width="2"/><line x1="110" y1="571.2" x2="245" y2="571.2" stroke="#000" stroke-width="1.2"/><line x1="245" y1="571.2" x2="271.8" y2="571.2" stroke="#000" stroke-width="2"/><line x1="36" y1="602.2" x2="36" y2="638" stroke="#000" stroke-width="2"/><line x1="36" y1="638" x2="36" y2="661" stroke="#000" stroke-width="1.2"/><line x1="302.8" y1="602.2" x2="302.8" y2="640" stroke="#000" stroke-width="2"/><line x1="302.8" y1="640" x2="302.8" y2="661" stroke="#000" stroke-width="1.2"/><line x1="67" y1="692" x2="93" y2="692" stroke="#000" stroke-width="2"/><line x1="93" y1="692" x2="130" y2="692" stroke="#000" stroke-width="1.2"/><line x1="130" y1="692" x2="180" y2="692" stroke="#000" stroke-width="2"/><line x1="180" y1="692" x2="271.8" y2="692" stroke="#000" stroke-width="1.2"/>
<g class="tb">
<rect x="316" y="738.3" width="403.3" height="206" />
<line x1="316" y1="780" x2="719.3" y2="780"/>
<line x1="316" y1="812.7" x2="719.3" y2="812.7"/>
<line x1="446" y1="738.3" x2="446" y2="944.3"/>
<line x1="583.2" y1="780" x2="583.2" y2="944.3"/>
</g>
<g class="tt">
<text x="332.5" y="756.1" font-size="14" textLength="96.7" lengthAdjust="spacingAndGlyphs">PART&#160;&#160;NAME</text>
<text x="332.5" y="772.2" font-size="14" textLength="42.5" lengthAdjust="spacingAndGlyphs">CODE</text>
<text x="332" y="802.8" font-size="14" textLength="56.3" lengthAdjust="spacingAndGlyphs">MAKER</text>
<text x="499.5" y="804.5" font-size="15" textLength="32.5" lengthAdjust="spacingAndGlyphs">NTN</text>
<text x="618" y="804.5" font-size="15" textLength="66.3" lengthAdjust="spacingAndGlyphs">TOYOTA</text>
<text x="560.5" y="761.7" font-size="15" textLength="44.3" lengthAdjust="spacingAndGlyphs">42350</text>
<text x="561.2" y="770.5" font-size="10" textLength="34.1" lengthAdjust="spacingAndGlyphs">JOINT</text>
<text x="331" y="870" font-size="14" textLength="101" lengthAdjust="spacingAndGlyphs">DIFFERENCE</text>
<text x="331" y="886" font-size="14" textLength="50" lengthAdjust="spacingAndGlyphs">PLACE</text>
<text x="662" y="970" font-size="13.5" textLength="68.2" lengthAdjust="spacingAndGlyphs">MC&#160;&#160;7744-B</text>
</g>
</svg></body></html>
